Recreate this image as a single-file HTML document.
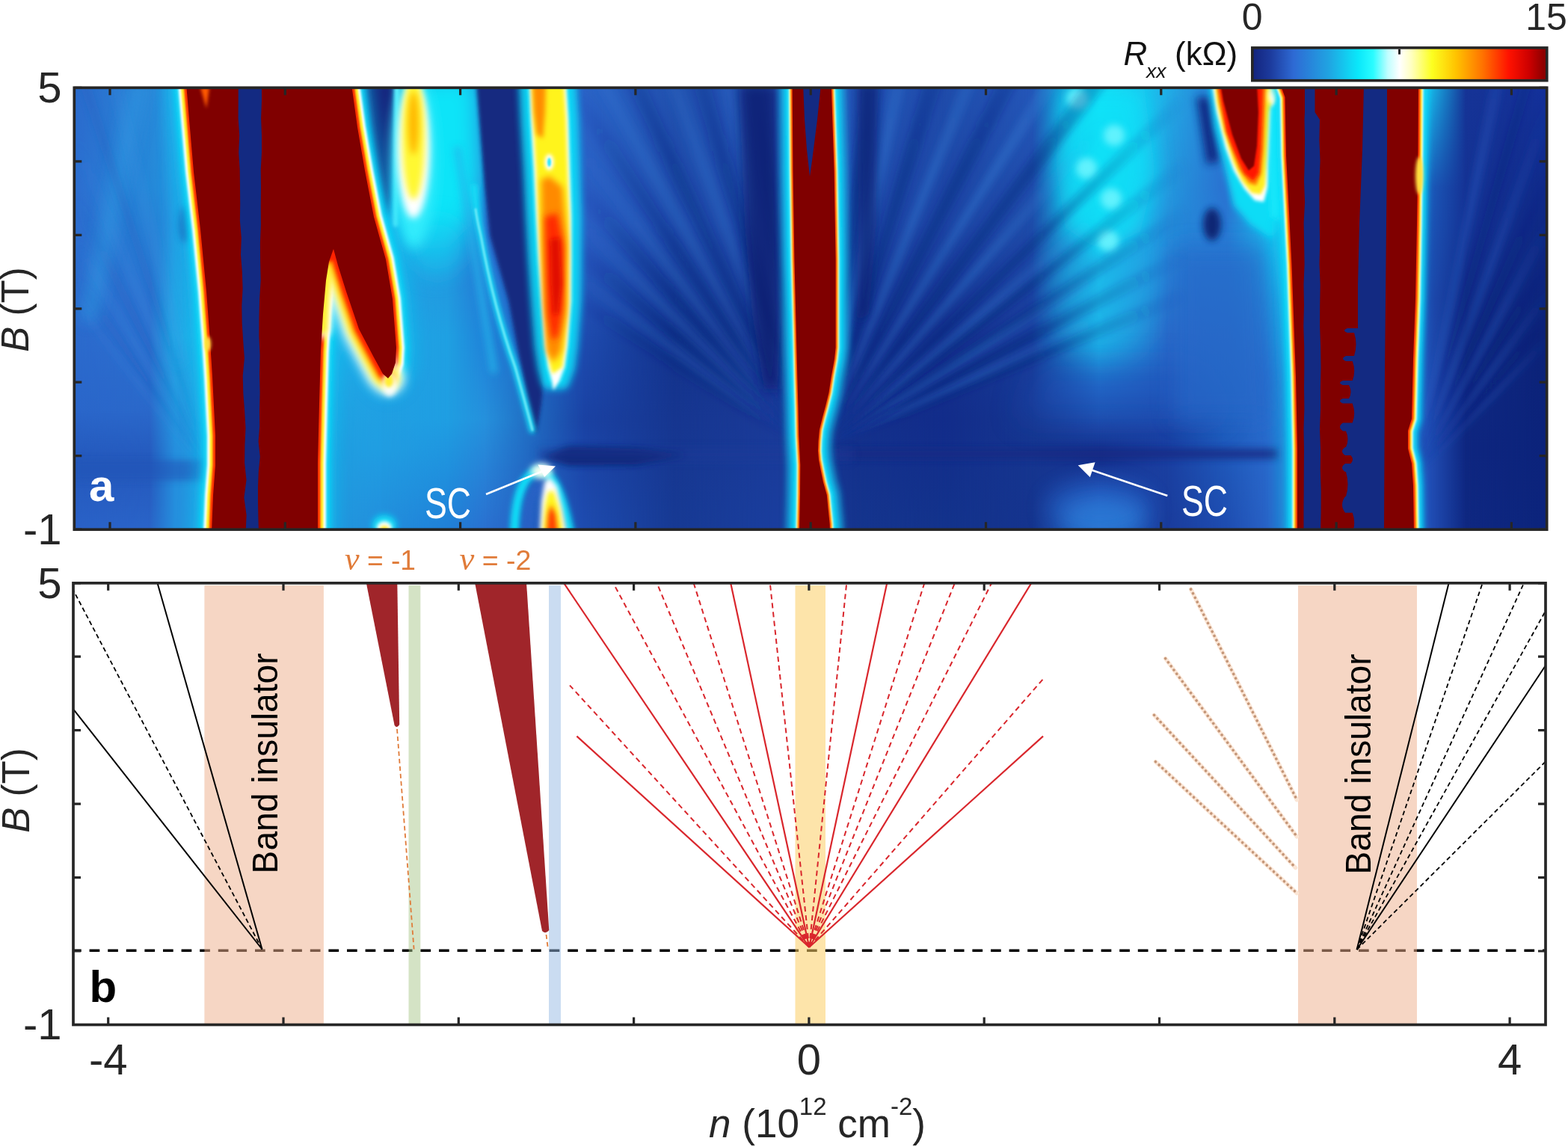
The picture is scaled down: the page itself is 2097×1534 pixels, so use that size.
<!DOCTYPE html>
<html><head><meta charset="utf-8"><title>Figure</title>
<style>html,body{margin:0;padding:0;background:#fff;width:2097px;height:1534px;overflow:hidden}</style>
</head><body>
<svg xmlns="http://www.w3.org/2000/svg" width="2097" height="1534" viewBox="0 0 2097 1534" style="position:absolute;left:0;top:0">
<defs>
<filter id="b1" x="-50%" y="-50%" width="200%" height="200%"><feGaussianBlur stdDeviation="1"/></filter>
<filter id="b1_5" x="-50%" y="-50%" width="200%" height="200%"><feGaussianBlur stdDeviation="1.5"/></filter>
<filter id="b2" x="-50%" y="-50%" width="200%" height="200%"><feGaussianBlur stdDeviation="2"/></filter>
<filter id="b3" x="-50%" y="-50%" width="200%" height="200%"><feGaussianBlur stdDeviation="3"/></filter>
<filter id="b4" x="-50%" y="-50%" width="200%" height="200%"><feGaussianBlur stdDeviation="4"/></filter>
<filter id="b5" x="-50%" y="-50%" width="200%" height="200%"><feGaussianBlur stdDeviation="5"/></filter>
<filter id="b6" x="-50%" y="-50%" width="200%" height="200%"><feGaussianBlur stdDeviation="6"/></filter>
<filter id="b8" x="-50%" y="-50%" width="200%" height="200%"><feGaussianBlur stdDeviation="8"/></filter>
<filter id="b10" x="-50%" y="-50%" width="200%" height="200%"><feGaussianBlur stdDeviation="10"/></filter>
<filter id="b12" x="-50%" y="-50%" width="200%" height="200%"><feGaussianBlur stdDeviation="12"/></filter>
<filter id="b15" x="-50%" y="-50%" width="200%" height="200%"><feGaussianBlur stdDeviation="15"/></filter>
<filter id="b18" x="-50%" y="-50%" width="200%" height="200%"><feGaussianBlur stdDeviation="18"/></filter>
<filter id="b22" x="-50%" y="-50%" width="200%" height="200%"><feGaussianBlur stdDeviation="22"/></filter>
<filter id="b28" x="-50%" y="-50%" width="200%" height="200%"><feGaussianBlur stdDeviation="28"/></filter>
<filter id="b35" x="-50%" y="-50%" width="200%" height="200%"><feGaussianBlur stdDeviation="35"/></filter>
<clipPath id="clipA"><rect x="99.3" y="117.3" width="1969.3999999999999" height="590.9000000000001"/></clipPath>
<clipPath id="clipB"><rect x="98.0" y="779.8" width="1969.0" height="590.7"/></clipPath>
<linearGradient id="cbar" x1="0" x2="1" y1="0" y2="0">
<stop offset="0" stop-color="#13237c"/>
<stop offset="0.06" stop-color="#1c3a9c"/>
<stop offset="0.14" stop-color="#2e6ad4"/>
<stop offset="0.26" stop-color="#20a4e2"/>
<stop offset="0.36" stop-color="#0ae8fa"/>
<stop offset="0.41" stop-color="#2afcff"/>
<stop offset="0.46" stop-color="#c0feff"/>
<stop offset="0.50" stop-color="#ffffff"/>
<stop offset="0.54" stop-color="#ffffc0"/>
<stop offset="0.61" stop-color="#fcff20"/>
<stop offset="0.69" stop-color="#ffc400"/>
<stop offset="0.78" stop-color="#ff7400"/>
<stop offset="0.87" stop-color="#ff1200"/>
<stop offset="0.94" stop-color="#cc0000"/>
<stop offset="1" stop-color="#800000"/>
</linearGradient>
</defs>
<rect width="2097" height="1534" fill="#ffffff"/>
<g clip-path="url(#clipA)">
<defs><filter id="f0" filterUnits="userSpaceOnUse" x="76" y="73" width="153" height="391"><feGaussianBlur stdDeviation="10"/></filter><filter id="f1" filterUnits="userSpaceOnUse" x="197" y="82" width="75" height="432"><feGaussianBlur stdDeviation="8"/></filter><filter id="f2" filterUnits="userSpaceOnUse" x="86" y="602" width="206" height="54"><feGaussianBlur stdDeviation="4"/></filter><filter id="f3" filterUnits="userSpaceOnUse" x="210" y="262" width="76" height="76"><feGaussianBlur stdDeviation="4"/></filter><filter id="f4" filterUnits="userSpaceOnUse" x="478" y="48" width="219" height="339"><feGaussianBlur stdDeviation="16"/></filter><filter id="f5" filterUnits="userSpaceOnUse" x="500" y="245" width="170" height="170"><feGaussianBlur stdDeviation="14"/></filter><filter id="f6" filterUnits="userSpaceOnUse" x="475" y="98" width="66" height="208"><feGaussianBlur stdDeviation="4"/></filter><filter id="f7" filterUnits="userSpaceOnUse" x="514" y="104" width="38" height="213"><feGaussianBlur stdDeviation="2"/></filter><filter id="f8" filterUnits="userSpaceOnUse" x="409" y="71" width="287" height="287"><feGaussianBlur stdDeviation="8"/></filter><filter id="f9" filterUnits="userSpaceOnUse" x="445" y="92" width="216" height="216"><feGaussianBlur stdDeviation="5"/></filter><filter id="f10" filterUnits="userSpaceOnUse" x="458" y="90" width="190" height="190"><feGaussianBlur stdDeviation="4"/></filter><filter id="f11" filterUnits="userSpaceOnUse" x="498" y="110" width="110" height="110"><feGaussianBlur stdDeviation="4"/></filter><filter id="f12" filterUnits="userSpaceOnUse" x="708" y="581" width="229" height="58"><feGaussianBlur stdDeviation="5"/></filter><filter id="f13" filterUnits="userSpaceOnUse" x="1104" y="584" width="622" height="46"><feGaussianBlur stdDeviation="5"/></filter><filter id="f14" filterUnits="userSpaceOnUse" x="701" y="581" width="458" height="54"><feGaussianBlur stdDeviation="6"/></filter><filter id="f15" filterUnits="userSpaceOnUse" x="1343" y="52" width="272" height="493"><feGaussianBlur stdDeviation="20"/></filter><filter id="f16" filterUnits="userSpaceOnUse" x="1295" y="425" width="410" height="200"><feGaussianBlur stdDeviation="20"/></filter><filter id="f17" filterUnits="userSpaceOnUse" x="1521" y="281" width="228" height="328"><feGaussianBlur stdDeviation="15"/></filter><filter id="f18" filterUnits="userSpaceOnUse" x="1366" y="71" width="225" height="310"><feGaussianBlur stdDeviation="14"/></filter><filter id="f19" filterUnits="userSpaceOnUse" x="1411" y="102" width="60" height="60"><feGaussianBlur stdDeviation="5"/></filter><filter id="f20" filterUnits="userSpaceOnUse" x="1460" y="151" width="60" height="60"><feGaussianBlur stdDeviation="5"/></filter><filter id="f21" filterUnits="userSpaceOnUse" x="1423" y="195" width="60" height="60"><feGaussianBlur stdDeviation="5"/></filter><filter id="f22" filterUnits="userSpaceOnUse" x="1456" y="236" width="60" height="60"><feGaussianBlur stdDeviation="5"/></filter><filter id="f23" filterUnits="userSpaceOnUse" x="1452" y="292" width="60" height="60"><feGaussianBlur stdDeviation="5"/></filter><filter id="f24" filterUnits="userSpaceOnUse" x="1387" y="604" width="177" height="177"><feGaussianBlur stdDeviation="12"/></filter><filter id="f25" filterUnits="userSpaceOnUse" x="1355" y="565" width="230" height="230"><feGaussianBlur stdDeviation="14"/></filter><filter id="f26" filterUnits="userSpaceOnUse" x="1079" y="81" width="118" height="536"><feGaussianBlur stdDeviation="5"/></filter><filter id="f27" filterUnits="userSpaceOnUse" x="1079" y="79" width="200" height="538"><feGaussianBlur stdDeviation="5"/></filter><filter id="f28" filterUnits="userSpaceOnUse" x="1079" y="78" width="301" height="540"><feGaussianBlur stdDeviation="5"/></filter><filter id="f29" filterUnits="userSpaceOnUse" x="1080" y="76" width="422" height="542"><feGaussianBlur stdDeviation="5"/></filter><filter id="f30" filterUnits="userSpaceOnUse" x="1083" y="104" width="528" height="511"><feGaussianBlur stdDeviation="4"/></filter><filter id="f31" filterUnits="userSpaceOnUse" x="1083" y="194" width="527" height="421"><feGaussianBlur stdDeviation="4"/></filter><filter id="f32" filterUnits="userSpaceOnUse" x="1083" y="258" width="526" height="357"><feGaussianBlur stdDeviation="4"/></filter><filter id="f33" filterUnits="userSpaceOnUse" x="1083" y="316" width="525" height="299"><feGaussianBlur stdDeviation="4"/></filter><filter id="f34" filterUnits="userSpaceOnUse" x="1084" y="368" width="524" height="247"><feGaussianBlur stdDeviation="4"/></filter><filter id="f35" filterUnits="userSpaceOnUse" x="1083" y="84" width="144" height="530"><feGaussianBlur stdDeviation="4"/></filter><filter id="f36" filterUnits="userSpaceOnUse" x="1083" y="83" width="239" height="531"><feGaussianBlur stdDeviation="4"/></filter><filter id="f37" filterUnits="userSpaceOnUse" x="1083" y="81" width="349" height="533"><feGaussianBlur stdDeviation="4"/></filter><filter id="f38" filterUnits="userSpaceOnUse" x="1083" y="141" width="417" height="474"><feGaussianBlur stdDeviation="4"/></filter><filter id="f39" filterUnits="userSpaceOnUse" x="1083" y="259" width="416" height="356"><feGaussianBlur stdDeviation="4"/></filter><filter id="f40" filterUnits="userSpaceOnUse" x="1083" y="340" width="415" height="275"><feGaussianBlur stdDeviation="4"/></filter><filter id="f41" filterUnits="userSpaceOnUse" x="1084" y="400" width="414" height="215"><feGaussianBlur stdDeviation="4"/></filter><filter id="f42" filterUnits="userSpaceOnUse" x="977" y="78" width="123" height="542"><feGaussianBlur stdDeviation="6"/></filter><filter id="f43" filterUnits="userSpaceOnUse" x="904" y="77" width="196" height="544"><feGaussianBlur stdDeviation="6"/></filter><filter id="f44" filterUnits="userSpaceOnUse" x="815" y="75" width="285" height="546"><feGaussianBlur stdDeviation="6"/></filter><filter id="f45" filterUnits="userSpaceOnUse" x="731" y="84" width="369" height="537"><feGaussianBlur stdDeviation="6"/></filter><filter id="f46" filterUnits="userSpaceOnUse" x="731" y="207" width="368" height="415"><feGaussianBlur stdDeviation="6"/></filter><filter id="f47" filterUnits="userSpaceOnUse" x="733" y="296" width="366" height="326"><feGaussianBlur stdDeviation="6"/></filter><filter id="f48" filterUnits="userSpaceOnUse" x="735" y="366" width="364" height="256"><feGaussianBlur stdDeviation="6"/></filter><filter id="f49" filterUnits="userSpaceOnUse" x="943" y="78" width="157" height="543"><feGaussianBlur stdDeviation="6"/></filter><filter id="f50" filterUnits="userSpaceOnUse" x="867" y="77" width="232" height="544"><feGaussianBlur stdDeviation="6"/></filter><filter id="f51" filterUnits="userSpaceOnUse" x="773" y="75" width="327" height="545"><feGaussianBlur stdDeviation="6"/></filter><filter id="f52" filterUnits="userSpaceOnUse" x="733" y="152" width="367" height="469"><feGaussianBlur stdDeviation="6"/></filter><filter id="f53" filterUnits="userSpaceOnUse" x="733" y="255" width="366" height="366"><feGaussianBlur stdDeviation="6"/></filter><filter id="f54" filterUnits="userSpaceOnUse" x="735" y="334" width="364" height="287"><feGaussianBlur stdDeviation="6"/></filter><filter id="f55" filterUnits="userSpaceOnUse" x="126" y="81" width="178" height="576"><feGaussianBlur stdDeviation="5"/></filter><filter id="f56" filterUnits="userSpaceOnUse" x="75" y="160" width="229" height="498"><feGaussianBlur stdDeviation="5"/></filter><filter id="f57" filterUnits="userSpaceOnUse" x="76" y="298" width="227" height="360"><feGaussianBlur stdDeviation="5"/></filter><filter id="f58" filterUnits="userSpaceOnUse" x="78" y="382" width="225" height="276"><feGaussianBlur stdDeviation="5"/></filter><filter id="f59" filterUnits="userSpaceOnUse" x="86" y="81" width="217" height="576"><feGaussianBlur stdDeviation="5"/></filter><filter id="f60" filterUnits="userSpaceOnUse" x="76" y="239" width="227" height="419"><feGaussianBlur stdDeviation="5"/></filter><filter id="f61" filterUnits="userSpaceOnUse" x="78" y="344" width="225" height="313"><feGaussianBlur stdDeviation="5"/></filter><filter id="f62" filterUnits="userSpaceOnUse" x="1875" y="85" width="151" height="570"><feGaussianBlur stdDeviation="4"/></filter><filter id="f63" filterUnits="userSpaceOnUse" x="1875" y="115" width="221" height="539"><feGaussianBlur stdDeviation="4"/></filter><filter id="f64" filterUnits="userSpaceOnUse" x="1875" y="275" width="220" height="379"><feGaussianBlur stdDeviation="4"/></filter><filter id="f65" filterUnits="userSpaceOnUse" x="1876" y="368" width="218" height="286"><feGaussianBlur stdDeviation="4"/></filter><filter id="f66" filterUnits="userSpaceOnUse" x="1876" y="431" width="217" height="223"><feGaussianBlur stdDeviation="4"/></filter><filter id="f67" filterUnits="userSpaceOnUse" x="1875" y="84" width="190" height="570"><feGaussianBlur stdDeviation="4"/></filter><filter id="f68" filterUnits="userSpaceOnUse" x="1875" y="208" width="220" height="446"><feGaussianBlur stdDeviation="4"/></filter><filter id="f69" filterUnits="userSpaceOnUse" x="1876" y="327" width="218" height="327"><feGaussianBlur stdDeviation="4"/></filter><filter id="f70" filterUnits="userSpaceOnUse" x="1876" y="403" width="217" height="251"><feGaussianBlur stdDeviation="4"/></filter><filter id="f71" filterUnits="userSpaceOnUse" x="590" y="178" width="92" height="339"><feGaussianBlur stdDeviation="5"/></filter><filter id="f72" filterUnits="userSpaceOnUse" x="628" y="103" width="109" height="484"><feGaussianBlur stdDeviation="2.5"/></filter><filter id="f73" filterUnits="userSpaceOnUse" x="-10" y="-10" width="2116" height="1553"><feGaussianBlur stdDeviation="3"/></filter><filter id="f74" filterUnits="userSpaceOnUse" x="-4" y="-4" width="2105" height="1542"><feGaussianBlur stdDeviation="1.2"/></filter><filter id="f75" filterUnits="userSpaceOnUse" x="674" y="81" width="124" height="460"><feGaussianBlur stdDeviation="5"/></filter><filter id="f76" filterUnits="userSpaceOnUse" x="698" y="105" width="77" height="413"><feGaussianBlur stdDeviation="2"/></filter><filter id="f77" filterUnits="userSpaceOnUse" x="701" y="105" width="71" height="425"><feGaussianBlur stdDeviation="2"/></filter><filter id="f78" filterUnits="userSpaceOnUse" x="702" y="103" width="68" height="406"><feGaussianBlur stdDeviation="2.5"/></filter><filter id="f79" filterUnits="userSpaceOnUse" x="710" y="222" width="62" height="277"><feGaussianBlur stdDeviation="4"/></filter><filter id="f80" filterUnits="userSpaceOnUse" x="715" y="271" width="53" height="198"><feGaussianBlur stdDeviation="4"/></filter><filter id="f81" filterUnits="userSpaceOnUse" x="725" y="307" width="36" height="123"><feGaussianBlur stdDeviation="3"/></filter><filter id="f82" filterUnits="userSpaceOnUse" x="701" y="101" width="39" height="94"><feGaussianBlur stdDeviation="3"/></filter><filter id="f83" filterUnits="userSpaceOnUse" x="716" y="198" width="38" height="38"><feGaussianBlur stdDeviation="2.5"/></filter><filter id="f84" filterUnits="userSpaceOnUse" x="725" y="207" width="20" height="20"><feGaussianBlur stdDeviation="1.2"/></filter><filter id="f85" filterUnits="userSpaceOnUse" x="-11" y="-11" width="2119" height="1556"><feGaussianBlur stdDeviation="3.5"/></filter><filter id="f86" filterUnits="userSpaceOnUse" x="-13" y="-13" width="2123" height="1560"><feGaussianBlur stdDeviation="4"/></filter><filter id="f87" filterUnits="userSpaceOnUse" x="711" y="627" width="57" height="95"><feGaussianBlur stdDeviation="3"/></filter><filter id="f88" filterUnits="userSpaceOnUse" x="715" y="645" width="48" height="77"><feGaussianBlur stdDeviation="3"/></filter><filter id="f89" filterUnits="userSpaceOnUse" x="720" y="664" width="36" height="58"><feGaussianBlur stdDeviation="3"/></filter><filter id="f90" filterUnits="userSpaceOnUse" x="697" y="603" width="54" height="54"><feGaussianBlur stdDeviation="4"/></filter><filter id="f91" filterUnits="userSpaceOnUse" x="485" y="674" width="58" height="58"><feGaussianBlur stdDeviation="4"/></filter><filter id="f92" filterUnits="userSpaceOnUse" x="496" y="688" width="36" height="36"><feGaussianBlur stdDeviation="2.5"/></filter><filter id="f93" filterUnits="userSpaceOnUse" x="502" y="696" width="25" height="25"><feGaussianBlur stdDeviation="2"/></filter><filter id="f94" filterUnits="userSpaceOnUse" x="187" y="50" width="405" height="724"><feGaussianBlur stdDeviation="10"/></filter><filter id="f95" filterUnits="userSpaceOnUse" x="218" y="81" width="343" height="662"><feGaussianBlur stdDeviation="4"/></filter><filter id="f96" filterUnits="userSpaceOnUse" x="226" y="89" width="327" height="646"><feGaussianBlur stdDeviation="1.5"/></filter><filter id="f97" filterUnits="userSpaceOnUse" x="228" y="91" width="323" height="642"><feGaussianBlur stdDeviation="1"/></filter><filter id="f98" filterUnits="userSpaceOnUse" x="228" y="91" width="322" height="641"><feGaussianBlur stdDeviation="0.8"/></filter><filter id="f99" filterUnits="userSpaceOnUse" x="378" y="278" width="205" height="305"><feGaussianBlur stdDeviation="7"/></filter><filter id="f100" filterUnits="userSpaceOnUse" x="384" y="284" width="192" height="292"><feGaussianBlur stdDeviation="5"/></filter><filter id="f101" filterUnits="userSpaceOnUse" x="384" y="284" width="192" height="292"><feGaussianBlur stdDeviation="5"/></filter><filter id="f102" filterUnits="userSpaceOnUse" x="390" y="290" width="179" height="279"><feGaussianBlur stdDeviation="3"/></filter><filter id="f103" filterUnits="userSpaceOnUse" x="390" y="290" width="179" height="279"><feGaussianBlur stdDeviation="3"/></filter><filter id="f104" filterUnits="userSpaceOnUse" x="394" y="294" width="173" height="273"><feGaussianBlur stdDeviation="2"/></filter><filter id="f105" filterUnits="userSpaceOnUse" x="495" y="488" width="51" height="51"><feGaussianBlur stdDeviation="3"/></filter><filter id="f106" filterUnits="userSpaceOnUse" x="505" y="494" width="31" height="31"><feGaussianBlur stdDeviation="2"/></filter><filter id="f107" filterUnits="userSpaceOnUse" x="261" y="110" width="27" height="43"><feGaussianBlur stdDeviation="2"/></filter><filter id="f108" filterUnits="userSpaceOnUse" x="262" y="444" width="33" height="33"><feGaussianBlur stdDeviation="2"/></filter><filter id="f109" filterUnits="userSpaceOnUse" x="961" y="85" width="109" height="461"><feGaussianBlur stdDeviation="8"/></filter><filter id="f110" filterUnits="userSpaceOnUse" x="1126" y="92" width="68" height="358"><feGaussianBlur stdDeviation="6"/></filter><filter id="f111" filterUnits="userSpaceOnUse" x="1019" y="71" width="140" height="682"><feGaussianBlur stdDeviation="5"/></filter><filter id="f112" filterUnits="userSpaceOnUse" x="1041" y="93" width="96" height="638"><feGaussianBlur stdDeviation="2.5"/></filter><filter id="f113" filterUnits="userSpaceOnUse" x="1044" y="96" width="90" height="632"><feGaussianBlur stdDeviation="1.5"/></filter><filter id="f114" filterUnits="userSpaceOnUse" x="1045" y="98" width="86" height="628"><feGaussianBlur stdDeviation="1"/></filter><filter id="f115" filterUnits="userSpaceOnUse" x="1046" y="98" width="85" height="627"><feGaussianBlur stdDeviation="0.8"/></filter><filter id="f116" filterUnits="userSpaceOnUse" x="1650" y="50" width="147" height="724"><feGaussianBlur stdDeviation="10"/></filter><filter id="f117" filterUnits="userSpaceOnUse" x="1834" y="63" width="112" height="698"><feGaussianBlur stdDeviation="6"/></filter><filter id="f118" filterUnits="userSpaceOnUse" x="1580" y="110" width="72" height="130"><feGaussianBlur stdDeviation="6"/></filter><filter id="f119" filterUnits="userSpaceOnUse" x="1583" y="262" width="76" height="76"><feGaussianBlur stdDeviation="5"/></filter><filter id="f120" filterUnits="userSpaceOnUse" x="1600" y="95" width="133" height="240"><feGaussianBlur stdDeviation="5"/></filter><filter id="f121" filterUnits="userSpaceOnUse" x="1614" y="105" width="100" height="173"><feGaussianBlur stdDeviation="2"/></filter><filter id="f122" filterUnits="userSpaceOnUse" x="1618" y="105" width="102" height="163"><feGaussianBlur stdDeviation="2"/></filter><filter id="f123" filterUnits="userSpaceOnUse" x="1620" y="105" width="82" height="151"><feGaussianBlur stdDeviation="2"/></filter><filter id="f124" filterUnits="userSpaceOnUse" x="1622" y="105" width="75" height="145"><feGaussianBlur stdDeviation="2"/></filter><filter id="f125" filterUnits="userSpaceOnUse" x="1627" y="107" width="61" height="126"><feGaussianBlur stdDeviation="1.2"/></filter><filter id="f126" filterUnits="userSpaceOnUse" x="1685" y="129" width="43" height="181"><feGaussianBlur stdDeviation="3"/></filter><filter id="f127" filterUnits="userSpaceOnUse" x="1680" y="106" width="43" height="43"><feGaussianBlur stdDeviation="3"/></filter><filter id="f128" filterUnits="userSpaceOnUse" x="1681" y="271" width="83" height="460"><feGaussianBlur stdDeviation="6"/></filter><filter id="f129" filterUnits="userSpaceOnUse" x="1687" y="87" width="235" height="650"><feGaussianBlur stdDeviation="3.5"/></filter><filter id="f130" filterUnits="userSpaceOnUse" x="1693" y="93" width="223" height="638"><feGaussianBlur stdDeviation="1.5"/></filter><filter id="f131" filterUnits="userSpaceOnUse" x="1695" y="95" width="219" height="634"><feGaussianBlur stdDeviation="1"/></filter><filter id="f132" filterUnits="userSpaceOnUse" x="1695" y="95" width="218" height="633"><feGaussianBlur stdDeviation="0.8"/></filter><filter id="f133" filterUnits="userSpaceOnUse" x="1867" y="204" width="63" height="63"><feGaussianBlur stdDeviation="2"/></filter></defs>
<linearGradient id="ramp" x1="0" x2="1" y1="0" y2="0"><stop offset="0" stop-color="#fff" stop-opacity="0"/><stop offset="1" stop-color="#fff" stop-opacity="1"/></linearGradient>
<mask id="mramp" maskContentUnits="objectBoundingBox"><rect x="0" y="0" width="1" height="1" fill="url(#ramp)"/></mask>
<linearGradient id="col0" gradientUnits="userSpaceOnUse" x1="0" y1="117" x2="0" y2="709"><stop offset="0.000" stop-color="#2a6acc"/><stop offset="0.225" stop-color="#2d6ed0"/><stop offset="0.478" stop-color="#2c6ccf"/><stop offset="0.731" stop-color="#2a66ca"/><stop offset="0.850" stop-color="#2458bc"/><stop offset="0.998" stop-color="#2a62c8"/></linearGradient>
<rect x="94" y="112" width="106" height="602" fill="url(#col0)"/>
<linearGradient id="col1" gradientUnits="userSpaceOnUse" x1="0" y1="117" x2="0" y2="709"><stop offset="0.000" stop-color="#2a86d8"/><stop offset="0.225" stop-color="#2488d8"/><stop offset="0.478" stop-color="#2c72d0"/><stop offset="0.731" stop-color="#2a68ca"/><stop offset="0.850" stop-color="#2458bc"/><stop offset="0.998" stop-color="#2a64c8"/></linearGradient>
<rect x="99" y="112" width="101" height="602" fill="url(#col1)" mask="url(#mramp)"/>
<rect x="200" y="112" width="35" height="602" fill="url(#col1)"/>
<linearGradient id="col2" gradientUnits="userSpaceOnUse" x1="0" y1="117" x2="0" y2="709"><stop offset="0.000" stop-color="#25a0e4"/><stop offset="0.309" stop-color="#2590de"/><stop offset="0.562" stop-color="#22b0e8"/><stop offset="0.816" stop-color="#2590de"/><stop offset="0.998" stop-color="#2590de"/></linearGradient>
<rect x="200" y="112" width="35" height="602" fill="url(#col2)" mask="url(#mramp)"/>
<rect x="235" y="112" width="65" height="602" fill="url(#col2)"/>
<linearGradient id="col3" gradientUnits="userSpaceOnUse" x1="0" y1="117" x2="0" y2="709"><stop offset="0.000" stop-color="#22a8e6"/><stop offset="0.998" stop-color="#22a8e6"/></linearGradient>
<rect x="235" y="112" width="65" height="602" fill="url(#col3)" mask="url(#mramp)"/>
<rect x="300" y="112" width="140" height="602" fill="url(#col3)"/>
<linearGradient id="col4" gradientUnits="userSpaceOnUse" x1="0" y1="117" x2="0" y2="709"><stop offset="0.000" stop-color="#20b8ec"/><stop offset="0.360" stop-color="#22c0ee"/><stop offset="0.562" stop-color="#20aee8"/><stop offset="0.816" stop-color="#209ee0"/><stop offset="0.998" stop-color="#2298de"/></linearGradient>
<rect x="300" y="112" width="140" height="602" fill="url(#col4)" mask="url(#mramp)"/>
<rect x="440" y="112" width="70" height="602" fill="url(#col4)"/>
<linearGradient id="col5" gradientUnits="userSpaceOnUse" x1="0" y1="117" x2="0" y2="709"><stop offset="0.000" stop-color="#1a3a9a"/><stop offset="0.140" stop-color="#1e4cb0"/><stop offset="0.309" stop-color="#20a8e6"/><stop offset="0.562" stop-color="#1fa4e4"/><stop offset="0.816" stop-color="#209ee2"/><stop offset="0.998" stop-color="#228edc"/></linearGradient>
<rect x="440" y="112" width="70" height="602" fill="url(#col5)" mask="url(#mramp)"/>
<rect x="510" y="112" width="90" height="602" fill="url(#col5)"/>
<linearGradient id="col6" gradientUnits="userSpaceOnUse" x1="0" y1="117" x2="0" y2="709"><stop offset="0.000" stop-color="#2590dc"/><stop offset="0.309" stop-color="#2590dc"/><stop offset="0.562" stop-color="#1fa0e2"/><stop offset="0.748" stop-color="#1f9ee2"/><stop offset="0.998" stop-color="#2080d8"/></linearGradient>
<rect x="510" y="112" width="90" height="602" fill="url(#col6)" mask="url(#mramp)"/>
<rect x="600" y="112" width="50" height="602" fill="url(#col6)"/>
<linearGradient id="col7" gradientUnits="userSpaceOnUse" x1="0" y1="117" x2="0" y2="709"><stop offset="0.000" stop-color="#2070d0"/><stop offset="0.309" stop-color="#2a6ed0"/><stop offset="0.562" stop-color="#2080d8"/><stop offset="0.748" stop-color="#2590dc"/><stop offset="0.998" stop-color="#2a70d0"/></linearGradient>
<rect x="600" y="112" width="50" height="602" fill="url(#col7)" mask="url(#mramp)"/>
<rect x="650" y="112" width="130" height="602" fill="url(#col7)"/>
<linearGradient id="col8" gradientUnits="userSpaceOnUse" x1="0" y1="117" x2="0" y2="709"><stop offset="0.000" stop-color="#2a64c8"/><stop offset="0.309" stop-color="#2a5ec4"/><stop offset="0.562" stop-color="#1e4cb0"/><stop offset="0.748" stop-color="#1a42a4"/><stop offset="0.998" stop-color="#1e4cb0"/></linearGradient>
<rect x="650" y="112" width="130" height="602" fill="url(#col8)" mask="url(#mramp)"/>
<rect x="780" y="112" width="120" height="602" fill="url(#col8)"/>
<linearGradient id="col9" gradientUnits="userSpaceOnUse" x1="0" y1="117" x2="0" y2="709"><stop offset="0.000" stop-color="#2150ae"/><stop offset="0.309" stop-color="#1e4aaa"/><stop offset="0.562" stop-color="#12328c"/><stop offset="0.748" stop-color="#163690"/><stop offset="0.998" stop-color="#173a94"/></linearGradient>
<rect x="780" y="112" width="120" height="602" fill="url(#col9)" mask="url(#mramp)"/>
<rect x="900" y="112" width="140" height="602" fill="url(#col9)"/>
<linearGradient id="col10" gradientUnits="userSpaceOnUse" x1="0" y1="117" x2="0" y2="709"><stop offset="0.000" stop-color="#2454b8"/><stop offset="0.309" stop-color="#1e48a8"/><stop offset="0.562" stop-color="#163690"/><stop offset="0.748" stop-color="#1a3a98"/><stop offset="0.998" stop-color="#1a3e9e"/></linearGradient>
<rect x="900" y="112" width="140" height="602" fill="url(#col10)" mask="url(#mramp)"/>
<rect x="1040" y="112" width="100" height="602" fill="url(#col10)"/>
<linearGradient id="col11" gradientUnits="userSpaceOnUse" x1="0" y1="117" x2="0" y2="709"><stop offset="0.000" stop-color="#2456b8"/><stop offset="0.309" stop-color="#1e48a8"/><stop offset="0.562" stop-color="#143290"/><stop offset="0.748" stop-color="#13308c"/><stop offset="0.998" stop-color="#15358e"/></linearGradient>
<rect x="1040" y="112" width="100" height="602" fill="url(#col11)" mask="url(#mramp)"/>
<rect x="1140" y="112" width="120" height="602" fill="url(#col11)"/>
<linearGradient id="col12" gradientUnits="userSpaceOnUse" x1="0" y1="117" x2="0" y2="709"><stop offset="0.000" stop-color="#1f4cab"/><stop offset="0.309" stop-color="#1c44a4"/><stop offset="0.562" stop-color="#13308c"/><stop offset="0.748" stop-color="#122c8a"/><stop offset="0.998" stop-color="#13338c"/></linearGradient>
<rect x="1140" y="112" width="120" height="602" fill="url(#col12)" mask="url(#mramp)"/>
<rect x="1260" y="112" width="120" height="602" fill="url(#col12)"/>
<linearGradient id="col13" gradientUnits="userSpaceOnUse" x1="0" y1="117" x2="0" y2="709"><stop offset="0.000" stop-color="#2456b8"/><stop offset="0.309" stop-color="#1e4aa8"/><stop offset="0.562" stop-color="#183c9c"/><stop offset="0.748" stop-color="#163690"/><stop offset="0.998" stop-color="#15348e"/></linearGradient>
<rect x="1260" y="112" width="120" height="602" fill="url(#col13)" mask="url(#mramp)"/>
<rect x="1380" y="112" width="90" height="602" fill="url(#col13)"/>
<linearGradient id="col14" gradientUnits="userSpaceOnUse" x1="0" y1="117" x2="0" y2="709"><stop offset="0.000" stop-color="#0ee6f8"/><stop offset="0.225" stop-color="#14d8f4"/><stop offset="0.394" stop-color="#1cc0ec"/><stop offset="0.562" stop-color="#1cb0e6"/><stop offset="0.681" stop-color="#2478d4"/><stop offset="0.765" stop-color="#1c46a6"/><stop offset="0.833" stop-color="#142c88"/><stop offset="0.917" stop-color="#1e4cb0"/><stop offset="0.998" stop-color="#2a6ed0"/></linearGradient>
<rect x="1380" y="112" width="90" height="602" fill="url(#col14)" mask="url(#mramp)"/>
<rect x="1470" y="112" width="90" height="602" fill="url(#col14)"/>
<linearGradient id="col15" gradientUnits="userSpaceOnUse" x1="0" y1="117" x2="0" y2="709"><stop offset="0.000" stop-color="#22b0e8"/><stop offset="0.225" stop-color="#2498de"/><stop offset="0.394" stop-color="#2680d6"/><stop offset="0.562" stop-color="#2a68c8"/><stop offset="0.681" stop-color="#2460c4"/><stop offset="0.782" stop-color="#1a40a2"/><stop offset="0.998" stop-color="#1a3c9c"/></linearGradient>
<rect x="1470" y="112" width="90" height="602" fill="url(#col15)" mask="url(#mramp)"/>
<rect x="1560" y="112" width="80" height="602" fill="url(#col15)"/>
<linearGradient id="col16" gradientUnits="userSpaceOnUse" x1="0" y1="117" x2="0" y2="709"><stop offset="0.000" stop-color="#2a70d0"/><stop offset="0.225" stop-color="#2a70d0"/><stop offset="0.394" stop-color="#2680d6"/><stop offset="0.562" stop-color="#2a6cca"/><stop offset="0.748" stop-color="#2060c0"/><stop offset="0.998" stop-color="#1e4cb0"/></linearGradient>
<rect x="1560" y="112" width="80" height="602" fill="url(#col16)" mask="url(#mramp)"/>
<rect x="1640" y="112" width="60" height="602" fill="url(#col16)"/>
<linearGradient id="col17" gradientUnits="userSpaceOnUse" x1="0" y1="117" x2="0" y2="709"><stop offset="0.000" stop-color="#10d0f0"/><stop offset="0.309" stop-color="#18c0ee"/><stop offset="0.478" stop-color="#2490dc"/><stop offset="0.647" stop-color="#2a70d0"/><stop offset="0.998" stop-color="#2a64c8"/></linearGradient>
<rect x="1640" y="112" width="60" height="602" fill="url(#col17)" mask="url(#mramp)"/>
<rect x="1700" y="112" width="100" height="602" fill="url(#col17)"/>
<linearGradient id="col18" gradientUnits="userSpaceOnUse" x1="0" y1="117" x2="0" y2="709"><stop offset="0.000" stop-color="#2090dc"/><stop offset="0.998" stop-color="#2a64c8"/></linearGradient>
<rect x="1700" y="112" width="100" height="602" fill="url(#col18)" mask="url(#mramp)"/>
<rect x="1800" y="112" width="110" height="602" fill="url(#col18)"/>
<linearGradient id="col19" gradientUnits="userSpaceOnUse" x1="0" y1="117" x2="0" y2="709"><stop offset="0.000" stop-color="#18c0ee"/><stop offset="0.225" stop-color="#1c5cbc"/><stop offset="0.478" stop-color="#1e4cb0"/><stop offset="0.731" stop-color="#2250b8"/><stop offset="0.998" stop-color="#2250b8"/></linearGradient>
<rect x="1800" y="112" width="110" height="602" fill="url(#col19)" mask="url(#mramp)"/>
<rect x="1910" y="112" width="50" height="602" fill="url(#col19)"/>
<linearGradient id="col20" gradientUnits="userSpaceOnUse" x1="0" y1="117" x2="0" y2="709"><stop offset="0.000" stop-color="#163496"/><stop offset="0.309" stop-color="#143294"/><stop offset="0.562" stop-color="#102a84"/><stop offset="0.816" stop-color="#0e2680"/><stop offset="0.998" stop-color="#0f2882"/></linearGradient>
<rect x="1910" y="112" width="50" height="602" fill="url(#col20)" mask="url(#mramp)"/>
<rect x="1960" y="112" width="109" height="602" fill="url(#col20)"/>
<linearGradient id="col21" gradientUnits="userSpaceOnUse" x1="0" y1="117" x2="0" y2="709"><stop offset="0.000" stop-color="#13309a"/><stop offset="0.309" stop-color="#0e2884"/><stop offset="0.562" stop-color="#0b2278"/><stop offset="0.998" stop-color="#0c247c"/></linearGradient>
<rect x="1960" y="112" width="109" height="602" fill="url(#col21)" mask="url(#mramp)"/>
<rect x="2069" y="112" width="5" height="602" fill="url(#col21)"/>
<line x1="185" y1="117" x2="120" y2="420" stroke="#2f95e0" stroke-width="22" stroke-linecap="round" opacity="0.7" filter="url(#f0)"/>
<line x1="232" y1="117" x2="238" y2="480" stroke="#27a5e6" stroke-width="16" stroke-linecap="round" opacity="0.8" filter="url(#f1)"/>
<rect x="99" y="615" width="180" height="28" fill="#2256b8" opacity="0.6" filter="url(#f2)"/>
<ellipse cx="248" cy="300" rx="8" ry="25" fill="#1e50b0" opacity="0.8" filter="url(#f3)"/>
<path d="M530.0 100.0 L640.0 100.0 L645.0 240.0 L630.0 300.0 L600.0 330.0 L565.0 335.0 L535.0 290.0 Z" fill="#0ee4f8" filter="url(#f4)"/>
<ellipse cx="585" cy="330" rx="40" ry="40" fill="#18c8f0" opacity="0.6" filter="url(#f5)"/>
<path d="M489.0 112.0 L527.0 112.0 L526.0 200.0 L522.0 265.0 L517.0 292.0 L508.0 250.0 L497.0 190.0 Z" fill="#12287e" filter="url(#f6)"/>
<path d="M531 112 L531 200 L529 300" fill="none" stroke="#70f4ff" stroke-width="7" stroke-linejoin="round" stroke-linecap="round" filter="url(#f7)"/>
<ellipse cx="553" cy="215" rx="30" ry="118" fill="#30ecfc" filter="url(#f8)"/>
<ellipse cx="553" cy="200" rx="22" ry="92" fill="#ffffff" filter="url(#f9)"/>
<ellipse cx="553" cy="185" rx="15" ry="82" fill="#fff830" filter="url(#f10)"/>
<ellipse cx="553" cy="165" rx="7" ry="42" fill="#ffb800" filter="url(#f11)"/>
<path d="M725.0 611.0 L760.0 598.0 L850.0 600.0 L920.0 608.0 L850.0 621.0 L760.0 622.0 Z" fill="#0f2272" filter="url(#f12)"/>
<rect x="1120" y="600" width="590" height="14" fill="#132a84" opacity="0.8" filter="url(#f13)"/>
<rect x="720" y="600" width="420" height="16" fill="#1c3a98" opacity="0.5" filter="url(#f14)"/>
<path d="M1430.0 117.0 L1530.0 117.0 L1550.0 250.0 L1550.0 380.0 L1535.0 450.0 L1500.0 480.0 L1445.0 480.0 L1415.0 440.0 L1408.0 360.0 L1415.0 250.0 Z" fill="#1cb8ec" opacity="0.4" filter="url(#f15)"/>
<path d="M1390.0 490.0 L1600.0 490.0 L1640.0 560.0 L1360.0 560.0 Z" fill="#1e4cb0" opacity="0.5" filter="url(#f16)"/>
<path d="M1570.0 330.0 L1690.0 330.0 L1700.0 560.0 L1570.0 560.0 Z" fill="#2868c8" opacity="0.7" filter="url(#f17)"/>
<path d="M1420.0 117.0 L1530.0 117.0 L1545.0 230.0 L1525.0 310.0 L1470.0 335.0 L1425.0 305.0 L1412.0 220.0 Z" fill="#0ce8fa" opacity="0.7" filter="url(#f18)"/>
<ellipse cx="1441" cy="132" rx="14" ry="14" fill="#70f6ff" opacity="0.85" filter="url(#f19)"/>
<ellipse cx="1490" cy="181" rx="14" ry="14" fill="#70f6ff" opacity="0.85" filter="url(#f20)"/>
<ellipse cx="1453" cy="225" rx="14" ry="14" fill="#70f6ff" opacity="0.85" filter="url(#f21)"/>
<ellipse cx="1486" cy="266" rx="14" ry="14" fill="#70f6ff" opacity="0.85" filter="url(#f22)"/>
<ellipse cx="1482" cy="322" rx="14" ry="14" fill="#70f6ff" opacity="0.85" filter="url(#f23)"/>
<ellipse cx="1475" cy="692" rx="50" ry="22" fill="#2a86da" opacity="0.8" filter="url(#f24)"/>
<ellipse cx="1470" cy="680" rx="70" ry="35" fill="#2a6ed0" opacity="0.5" filter="url(#f25)"/>
<linearGradient id="wg0" gradientUnits="userSpaceOnUse" x1="1098" y1="600" x2="1168.3" y2="100.0"><stop offset="0.0" stop-color="#0e2478" stop-opacity="0"/><stop offset="0.25" stop-color="#0e2478" stop-opacity="0.4"/><stop offset="0.75" stop-color="#0e2478" stop-opacity="0.4"/><stop offset="1.0" stop-color="#0e2478" stop-opacity="0.240"/></linearGradient>
<path d="M1099.8 600.3 L1180.2 101.7 L1156.4 98.3 L1096.2 599.7 Z" fill="url(#wg0)" filter="url(#f26)"/>
<linearGradient id="wg1" gradientUnits="userSpaceOnUse" x1="1098" y1="600" x2="1250.9" y2="100.0"><stop offset="0.0" stop-color="#0e2478" stop-opacity="0"/><stop offset="0.25" stop-color="#0e2478" stop-opacity="0.4"/><stop offset="0.75" stop-color="#0e2478" stop-opacity="0.4"/><stop offset="1.0" stop-color="#0e2478" stop-opacity="0.240"/></linearGradient>
<path d="M1099.7 600.5 L1262.3 103.5 L1239.4 96.5 L1096.3 599.5 Z" fill="url(#wg1)" filter="url(#f27)"/>
<linearGradient id="wg2" gradientUnits="userSpaceOnUse" x1="1098" y1="600" x2="1352.8" y2="100.0"><stop offset="0.0" stop-color="#0e2478" stop-opacity="0"/><stop offset="0.25" stop-color="#0e2478" stop-opacity="0.4"/><stop offset="0.75" stop-color="#0e2478" stop-opacity="0.4"/><stop offset="1.0" stop-color="#0e2478" stop-opacity="0.240"/></linearGradient>
<path d="M1099.6 600.8 L1363.5 105.4 L1342.1 94.6 L1096.4 599.2 Z" fill="url(#wg2)" filter="url(#f28)"/>
<linearGradient id="wg3" gradientUnits="userSpaceOnUse" x1="1098" y1="600" x2="1474.8" y2="100.0"><stop offset="0.0" stop-color="#0e2478" stop-opacity="0"/><stop offset="0.25" stop-color="#0e2478" stop-opacity="0.4"/><stop offset="0.75" stop-color="#0e2478" stop-opacity="0.4"/><stop offset="1.0" stop-color="#0e2478" stop-opacity="0.240"/></linearGradient>
<path d="M1099.4 601.1 L1484.4 107.2 L1465.2 92.8 L1096.6 598.9 Z" fill="url(#wg3)" filter="url(#f29)"/>
<linearGradient id="wg4" gradientUnits="userSpaceOnUse" x1="1098" y1="600" x2="1590.0" y2="124.9"><stop offset="0" stop-color="#0e2478" stop-opacity="0"/><stop offset="0.25" stop-color="#0e2478" stop-opacity="0.4"/><stop offset="0.55" stop-color="#0e2478" stop-opacity="0.4"/><stop offset="1.0" stop-color="#0e2478" stop-opacity="0.000"/></linearGradient>
<path d="M1099.0 601.1 L1596.9 132.1 L1583.1 117.7 L1097.0 598.9 Z" fill="url(#wg4)" filter="url(#f30)"/>
<linearGradient id="wg5" gradientUnits="userSpaceOnUse" x1="1098" y1="600" x2="1590.0" y2="215.6"><stop offset="0" stop-color="#0e2478" stop-opacity="0"/><stop offset="0.25" stop-color="#0e2478" stop-opacity="0.4"/><stop offset="0.55" stop-color="#0e2478" stop-opacity="0.4"/><stop offset="1.0" stop-color="#0e2478" stop-opacity="0.000"/></linearGradient>
<path d="M1098.9 601.2 L1596.2 223.5 L1583.8 207.7 L1097.1 598.8 Z" fill="url(#wg5)" filter="url(#f31)"/>
<linearGradient id="wg6" gradientUnits="userSpaceOnUse" x1="1098" y1="600" x2="1590.0" y2="280.5"><stop offset="0" stop-color="#0e2478" stop-opacity="0"/><stop offset="0.25" stop-color="#0e2478" stop-opacity="0.4"/><stop offset="0.55" stop-color="#0e2478" stop-opacity="0.4"/><stop offset="1.0" stop-color="#0e2478" stop-opacity="0.000"/></linearGradient>
<path d="M1098.8 601.3 L1595.4 288.9 L1584.6 272.1 L1097.2 598.7 Z" fill="url(#wg6)" filter="url(#f32)"/>
<linearGradient id="wg7" gradientUnits="userSpaceOnUse" x1="1098" y1="600" x2="1590.0" y2="338.4"><stop offset="0" stop-color="#0e2478" stop-opacity="0"/><stop offset="0.25" stop-color="#0e2478" stop-opacity="0.4"/><stop offset="0.55" stop-color="#0e2478" stop-opacity="0.4"/><stop offset="1.0" stop-color="#0e2478" stop-opacity="0.000"/></linearGradient>
<path d="M1098.7 601.3 L1594.7 347.2 L1585.3 329.6 L1097.3 598.7 Z" fill="url(#wg7)" filter="url(#f33)"/>
<linearGradient id="wg8" gradientUnits="userSpaceOnUse" x1="1098" y1="600" x2="1590.0" y2="391.2"><stop offset="0" stop-color="#0e2478" stop-opacity="0"/><stop offset="0.25" stop-color="#0e2478" stop-opacity="0.4"/><stop offset="0.55" stop-color="#0e2478" stop-opacity="0.4"/><stop offset="1.0" stop-color="#0e2478" stop-opacity="0.000"/></linearGradient>
<path d="M1098.6 601.4 L1593.9 400.4 L1586.1 382.0 L1097.4 598.6 Z" fill="url(#wg8)" filter="url(#f34)"/>
<linearGradient id="wg9" gradientUnits="userSpaceOnUse" x1="1098" y1="600" x2="1204.3" y2="100.0"><stop offset="0.0" stop-color="#3a8ee2" stop-opacity="0"/><stop offset="0.25" stop-color="#3a8ee2" stop-opacity="0.3"/><stop offset="0.75" stop-color="#3a8ee2" stop-opacity="0.3"/><stop offset="1.0" stop-color="#3a8ee2" stop-opacity="0.180"/></linearGradient>
<path d="M1099.3 600.3 L1213.1 101.9 L1195.5 98.1 L1096.7 599.7 Z" fill="url(#wg9)" filter="url(#f35)"/>
<linearGradient id="wg10" gradientUnits="userSpaceOnUse" x1="1098" y1="600" x2="1300.0" y2="100.0"><stop offset="0.0" stop-color="#3a8ee2" stop-opacity="0"/><stop offset="0.25" stop-color="#3a8ee2" stop-opacity="0.3"/><stop offset="0.75" stop-color="#3a8ee2" stop-opacity="0.3"/><stop offset="1.0" stop-color="#3a8ee2" stop-opacity="0.180"/></linearGradient>
<path d="M1099.3 600.5 L1308.4 103.4 L1291.7 96.6 L1096.7 599.5 Z" fill="url(#wg10)" filter="url(#f36)"/>
<linearGradient id="wg11" gradientUnits="userSpaceOnUse" x1="1098" y1="600" x2="1410.4" y2="100.0"><stop offset="0.0" stop-color="#3a8ee2" stop-opacity="0"/><stop offset="0.25" stop-color="#3a8ee2" stop-opacity="0.3"/><stop offset="0.75" stop-color="#3a8ee2" stop-opacity="0.3"/><stop offset="1.0" stop-color="#3a8ee2" stop-opacity="0.180"/></linearGradient>
<path d="M1099.1 600.7 L1418.1 104.8 L1402.8 95.2 L1096.9 599.3 Z" fill="url(#wg11)" filter="url(#f37)"/>
<linearGradient id="wg12" gradientUnits="userSpaceOnUse" x1="1098" y1="600" x2="1480.0" y2="160.6"><stop offset="0" stop-color="#3a8ee2" stop-opacity="0"/><stop offset="0.25" stop-color="#3a8ee2" stop-opacity="0.3"/><stop offset="0.55" stop-color="#3a8ee2" stop-opacity="0.3"/><stop offset="1.0" stop-color="#3a8ee2" stop-opacity="0.000"/></linearGradient>
<path d="M1099.0 600.9 L1486.8 166.5 L1473.2 154.7 L1097.0 599.1 Z" fill="url(#wg12)" filter="url(#f38)"/>
<linearGradient id="wg13" gradientUnits="userSpaceOnUse" x1="1098" y1="600" x2="1480.0" y2="279.5"><stop offset="0" stop-color="#3a8ee2" stop-opacity="0"/><stop offset="0.25" stop-color="#3a8ee2" stop-opacity="0.3"/><stop offset="0.55" stop-color="#3a8ee2" stop-opacity="0.3"/><stop offset="1.0" stop-color="#3a8ee2" stop-opacity="0.000"/></linearGradient>
<path d="M1098.9 601.0 L1485.8 286.4 L1474.2 272.6 L1097.1 599.0 Z" fill="url(#wg13)" filter="url(#f39)"/>
<linearGradient id="wg14" gradientUnits="userSpaceOnUse" x1="1098" y1="600" x2="1480.0" y2="361.3"><stop offset="0" stop-color="#3a8ee2" stop-opacity="0"/><stop offset="0.25" stop-color="#3a8ee2" stop-opacity="0.3"/><stop offset="0.55" stop-color="#3a8ee2" stop-opacity="0.3"/><stop offset="1.0" stop-color="#3a8ee2" stop-opacity="0.000"/></linearGradient>
<path d="M1098.7 601.1 L1484.8 368.9 L1475.2 353.7 L1097.3 598.9 Z" fill="url(#wg14)" filter="url(#f40)"/>
<linearGradient id="wg15" gradientUnits="userSpaceOnUse" x1="1098" y1="600" x2="1480.0" y2="421.9"><stop offset="0" stop-color="#3a8ee2" stop-opacity="0"/><stop offset="0.25" stop-color="#3a8ee2" stop-opacity="0.3"/><stop offset="0.55" stop-color="#3a8ee2" stop-opacity="0.3"/><stop offset="1.0" stop-color="#3a8ee2" stop-opacity="0.000"/></linearGradient>
<path d="M1098.5 601.1 L1483.6 429.5 L1476.4 414.2 L1097.5 598.9 Z" fill="url(#wg15)" filter="url(#f41)"/>
<linearGradient id="wg16" gradientUnits="userSpaceOnUse" x1="1078" y1="600" x2="1007.7" y2="100.0"><stop offset="0.0" stop-color="#0e2478" stop-opacity="0"/><stop offset="0.25" stop-color="#0e2478" stop-opacity="0.36"/><stop offset="0.75" stop-color="#0e2478" stop-opacity="0.36"/><stop offset="1.0" stop-color="#0e2478" stop-opacity="0.216"/></linearGradient>
<path d="M1079.6 599.8 L1018.6 98.5 L996.8 101.5 L1076.4 600.2 Z" fill="url(#wg16)" filter="url(#f42)"/>
<linearGradient id="wg17" gradientUnits="userSpaceOnUse" x1="1078" y1="600" x2="934.6" y2="100.0"><stop offset="0.0" stop-color="#0e2478" stop-opacity="0"/><stop offset="0.25" stop-color="#0e2478" stop-opacity="0.36"/><stop offset="0.75" stop-color="#0e2478" stop-opacity="0.36"/><stop offset="1.0" stop-color="#0e2478" stop-opacity="0.216"/></linearGradient>
<path d="M1079.6 599.5 L945.2 97.0 L924.1 103.0 L1076.4 600.5 Z" fill="url(#wg17)" filter="url(#f43)"/>
<linearGradient id="wg18" gradientUnits="userSpaceOnUse" x1="1078" y1="600" x2="844.8" y2="100.0"><stop offset="0.0" stop-color="#0e2478" stop-opacity="0"/><stop offset="0.25" stop-color="#0e2478" stop-opacity="0.36"/><stop offset="0.75" stop-color="#0e2478" stop-opacity="0.36"/><stop offset="1.0" stop-color="#0e2478" stop-opacity="0.216"/></linearGradient>
<path d="M1079.5 599.3 L854.8 95.4 L834.9 104.6 L1076.5 600.7 Z" fill="url(#wg18)" filter="url(#f44)"/>
<linearGradient id="wg19" gradientUnits="userSpaceOnUse" x1="1078" y1="600" x2="760.0" y2="110.3"><stop offset="0" stop-color="#0e2478" stop-opacity="0"/><stop offset="0.25" stop-color="#0e2478" stop-opacity="0.36"/><stop offset="0.55" stop-color="#0e2478" stop-opacity="0.36"/><stop offset="1.0" stop-color="#0e2478" stop-opacity="0.000"/></linearGradient>
<path d="M1079.4 599.1 L769.2 104.3 L750.8 116.3 L1076.6 600.9 Z" fill="url(#wg19)" filter="url(#f45)"/>
<linearGradient id="wg20" gradientUnits="userSpaceOnUse" x1="1078" y1="600" x2="760.0" y2="234.2"><stop offset="0" stop-color="#0e2478" stop-opacity="0"/><stop offset="0.25" stop-color="#0e2478" stop-opacity="0.36"/><stop offset="0.55" stop-color="#0e2478" stop-opacity="0.36"/><stop offset="1.0" stop-color="#0e2478" stop-opacity="0.000"/></linearGradient>
<path d="M1079.2 598.9 L768.3 227.0 L751.7 241.4 L1076.8 601.1 Z" fill="url(#wg20)" filter="url(#f46)"/>
<linearGradient id="wg21" gradientUnits="userSpaceOnUse" x1="1078" y1="600" x2="760.0" y2="323.6"><stop offset="0" stop-color="#0e2478" stop-opacity="0"/><stop offset="0.25" stop-color="#0e2478" stop-opacity="0.36"/><stop offset="0.55" stop-color="#0e2478" stop-opacity="0.36"/><stop offset="1.0" stop-color="#0e2478" stop-opacity="0.000"/></linearGradient>
<path d="M1079.0 598.8 L766.8 315.8 L753.2 331.3 L1077.0 601.2 Z" fill="url(#wg21)" filter="url(#f47)"/>
<linearGradient id="wg22" gradientUnits="userSpaceOnUse" x1="1078" y1="600" x2="760.0" y2="393.5"><stop offset="0" stop-color="#0e2478" stop-opacity="0"/><stop offset="0.25" stop-color="#0e2478" stop-opacity="0.36"/><stop offset="0.55" stop-color="#0e2478" stop-opacity="0.36"/><stop offset="1.0" stop-color="#0e2478" stop-opacity="0.000"/></linearGradient>
<path d="M1078.8 598.8 L765.0 385.7 L755.0 401.3 L1077.2 601.2 Z" fill="url(#wg22)" filter="url(#f48)"/>
<linearGradient id="wg23" gradientUnits="userSpaceOnUse" x1="1078" y1="600" x2="971.7" y2="100.0"><stop offset="0.0" stop-color="#3a8ee2" stop-opacity="0"/><stop offset="0.25" stop-color="#3a8ee2" stop-opacity="0.25"/><stop offset="0.75" stop-color="#3a8ee2" stop-opacity="0.25"/><stop offset="1.0" stop-color="#3a8ee2" stop-opacity="0.150"/></linearGradient>
<path d="M1079.3 599.7 L980.5 98.1 L962.9 101.9 L1076.7 600.3 Z" fill="url(#wg23)" filter="url(#f49)"/>
<linearGradient id="wg24" gradientUnits="userSpaceOnUse" x1="1078" y1="600" x2="896.0" y2="100.0"><stop offset="0.0" stop-color="#3a8ee2" stop-opacity="0"/><stop offset="0.25" stop-color="#3a8ee2" stop-opacity="0.25"/><stop offset="0.75" stop-color="#3a8ee2" stop-opacity="0.25"/><stop offset="1.0" stop-color="#3a8ee2" stop-opacity="0.150"/></linearGradient>
<path d="M1079.3 599.5 L904.5 96.9 L887.6 103.1 L1076.7 600.5 Z" fill="url(#wg24)" filter="url(#f50)"/>
<linearGradient id="wg25" gradientUnits="userSpaceOnUse" x1="1078" y1="600" x2="800.8" y2="100.0"><stop offset="0.0" stop-color="#3a8ee2" stop-opacity="0"/><stop offset="0.25" stop-color="#3a8ee2" stop-opacity="0.25"/><stop offset="0.75" stop-color="#3a8ee2" stop-opacity="0.25"/><stop offset="1.0" stop-color="#3a8ee2" stop-opacity="0.150"/></linearGradient>
<path d="M1079.2 599.3 L808.7 95.6 L793.0 104.4 L1076.8 600.7 Z" fill="url(#wg25)" filter="url(#f51)"/>
<linearGradient id="wg26" gradientUnits="userSpaceOnUse" x1="1078" y1="600" x2="760.0" y2="178.0"><stop offset="0" stop-color="#3a8ee2" stop-opacity="0"/><stop offset="0.25" stop-color="#3a8ee2" stop-opacity="0.25"/><stop offset="0.55" stop-color="#3a8ee2" stop-opacity="0.25"/><stop offset="1.0" stop-color="#3a8ee2" stop-opacity="0.000"/></linearGradient>
<path d="M1079.1 599.2 L767.2 172.6 L752.8 183.4 L1076.9 600.8 Z" fill="url(#wg26)" filter="url(#f52)"/>
<linearGradient id="wg27" gradientUnits="userSpaceOnUse" x1="1078" y1="600" x2="760.0" y2="282.0"><stop offset="0" stop-color="#3a8ee2" stop-opacity="0"/><stop offset="0.25" stop-color="#3a8ee2" stop-opacity="0.25"/><stop offset="0.55" stop-color="#3a8ee2" stop-opacity="0.25"/><stop offset="1.0" stop-color="#3a8ee2" stop-opacity="0.000"/></linearGradient>
<path d="M1079.0 599.0 L766.4 275.6 L753.6 288.4 L1077.0 601.0 Z" fill="url(#wg27)" filter="url(#f53)"/>
<linearGradient id="wg28" gradientUnits="userSpaceOnUse" x1="1078" y1="600" x2="760.0" y2="360.4"><stop offset="0" stop-color="#3a8ee2" stop-opacity="0"/><stop offset="0.25" stop-color="#3a8ee2" stop-opacity="0.25"/><stop offset="0.55" stop-color="#3a8ee2" stop-opacity="0.25"/><stop offset="1.0" stop-color="#3a8ee2" stop-opacity="0.000"/></linearGradient>
<path d="M1078.7 599.0 L764.8 354.0 L755.2 366.7 L1077.3 601.0 Z" fill="url(#wg28)" filter="url(#f54)"/>
<linearGradient id="wg29" gradientUnits="userSpaceOnUse" x1="285" y1="640" x2="150.4" y2="100.0"><stop offset="0.0" stop-color="#3a8ee2" stop-opacity="0"/><stop offset="0.25" stop-color="#3a8ee2" stop-opacity="0.25"/><stop offset="0.75" stop-color="#3a8ee2" stop-opacity="0.25"/><stop offset="1.0" stop-color="#3a8ee2" stop-opacity="0.150"/></linearGradient>
<path d="M286.2 639.7 L158.1 98.1 L142.6 101.9 L283.8 640.3 Z" fill="url(#wg29)" filter="url(#f55)"/>
<linearGradient id="wg30" gradientUnits="userSpaceOnUse" x1="285" y1="640" x2="99.0" y2="179.6"><stop offset="0" stop-color="#3a8ee2" stop-opacity="0"/><stop offset="0.25" stop-color="#3a8ee2" stop-opacity="0.25"/><stop offset="0.55" stop-color="#3a8ee2" stop-opacity="0.25"/><stop offset="1.0" stop-color="#3a8ee2" stop-opacity="0.000"/></linearGradient>
<path d="M286.1 639.6 L106.4 176.6 L91.6 182.6 L283.9 640.4 Z" fill="url(#wg30)" filter="url(#f56)"/>
<linearGradient id="wg31" gradientUnits="userSpaceOnUse" x1="285" y1="640" x2="99.0" y2="317.8"><stop offset="0" stop-color="#3a8ee2" stop-opacity="0"/><stop offset="0.25" stop-color="#3a8ee2" stop-opacity="0.25"/><stop offset="0.55" stop-color="#3a8ee2" stop-opacity="0.25"/><stop offset="1.0" stop-color="#3a8ee2" stop-opacity="0.000"/></linearGradient>
<path d="M285.9 639.5 L104.7 314.5 L93.3 321.1 L284.1 640.5 Z" fill="url(#wg31)" filter="url(#f57)"/>
<linearGradient id="wg32" gradientUnits="userSpaceOnUse" x1="285" y1="640" x2="99.0" y2="401.9"><stop offset="0" stop-color="#3a8ee2" stop-opacity="0"/><stop offset="0.25" stop-color="#3a8ee2" stop-opacity="0.25"/><stop offset="0.55" stop-color="#3a8ee2" stop-opacity="0.25"/><stop offset="1.0" stop-color="#3a8ee2" stop-opacity="0.000"/></linearGradient>
<path d="M285.6 639.5 L103.2 398.6 L94.8 405.2 L284.4 640.5 Z" fill="url(#wg32)" filter="url(#f58)"/>
<linearGradient id="wg33" gradientUnits="userSpaceOnUse" x1="285" y1="640" x2="109.5" y2="100.0"><stop offset="0.0" stop-color="#2358b8" stop-opacity="0"/><stop offset="0.25" stop-color="#2358b8" stop-opacity="0.3"/><stop offset="0.75" stop-color="#2358b8" stop-opacity="0.3"/><stop offset="1.0" stop-color="#2358b8" stop-opacity="0.180"/></linearGradient>
<path d="M286.0 639.7 L116.2 97.8 L102.9 102.2 L284.0 640.3 Z" fill="url(#wg33)" filter="url(#f59)"/>
<linearGradient id="wg34" gradientUnits="userSpaceOnUse" x1="285" y1="640" x2="99.0" y2="258.6"><stop offset="0" stop-color="#2358b8" stop-opacity="0"/><stop offset="0.25" stop-color="#2358b8" stop-opacity="0.3"/><stop offset="0.55" stop-color="#2358b8" stop-opacity="0.3"/><stop offset="1.0" stop-color="#2358b8" stop-opacity="0.000"/></linearGradient>
<path d="M285.9 639.6 L104.9 255.8 L93.1 261.5 L284.1 640.4 Z" fill="url(#wg34)" filter="url(#f60)"/>
<linearGradient id="wg35" gradientUnits="userSpaceOnUse" x1="285" y1="640" x2="99.0" y2="364.2"><stop offset="0" stop-color="#2358b8" stop-opacity="0"/><stop offset="0.25" stop-color="#2358b8" stop-opacity="0.3"/><stop offset="0.55" stop-color="#2358b8" stop-opacity="0.3"/><stop offset="1.0" stop-color="#2358b8" stop-opacity="0.000"/></linearGradient>
<path d="M285.6 639.6 L103.3 361.4 L94.7 367.1 L284.4 640.4 Z" fill="url(#wg35)" filter="url(#f61)"/>
<linearGradient id="wg36" gradientUnits="userSpaceOnUse" x1="1890" y1="640" x2="2004.8" y2="100.0"><stop offset="0.0" stop-color="#2c62c8" stop-opacity="0"/><stop offset="0.25" stop-color="#2c62c8" stop-opacity="0.35"/><stop offset="0.75" stop-color="#2c62c8" stop-opacity="0.35"/><stop offset="1.0" stop-color="#2c62c8" stop-opacity="0.210"/></linearGradient>
<path d="M1891.2 640.2 L2012.6 101.7 L1997.0 98.3 L1888.8 639.8 Z" fill="url(#wg36)" filter="url(#f62)"/>
<linearGradient id="wg37" gradientUnits="userSpaceOnUse" x1="1890" y1="640" x2="2075.0" y2="131.7"><stop offset="0" stop-color="#2c62c8" stop-opacity="0"/><stop offset="0.25" stop-color="#2c62c8" stop-opacity="0.35"/><stop offset="0.55" stop-color="#2c62c8" stop-opacity="0.35"/><stop offset="1.0" stop-color="#2c62c8" stop-opacity="0.000"/></linearGradient>
<path d="M1891.1 640.4 L2082.5 134.5 L2067.5 129.0 L1888.9 639.6 Z" fill="url(#wg37)" filter="url(#f63)"/>
<linearGradient id="wg38" gradientUnits="userSpaceOnUse" x1="1890" y1="640" x2="2075.0" y2="292.1"><stop offset="0" stop-color="#2c62c8" stop-opacity="0"/><stop offset="0.25" stop-color="#2c62c8" stop-opacity="0.35"/><stop offset="0.55" stop-color="#2c62c8" stop-opacity="0.35"/><stop offset="1.0" stop-color="#2c62c8" stop-opacity="0.000"/></linearGradient>
<path d="M1890.9 640.5 L2081.2 295.4 L2068.8 288.8 L1889.1 639.5 Z" fill="url(#wg38)" filter="url(#f64)"/>
<linearGradient id="wg39" gradientUnits="userSpaceOnUse" x1="1890" y1="640" x2="2075.0" y2="385.4"><stop offset="0" stop-color="#2c62c8" stop-opacity="0"/><stop offset="0.25" stop-color="#2c62c8" stop-opacity="0.35"/><stop offset="0.55" stop-color="#2c62c8" stop-opacity="0.35"/><stop offset="1.0" stop-color="#2c62c8" stop-opacity="0.000"/></linearGradient>
<path d="M1890.7 640.5 L2079.5 388.7 L2070.5 382.1 L1889.3 639.5 Z" fill="url(#wg39)" filter="url(#f65)"/>
<linearGradient id="wg40" gradientUnits="userSpaceOnUse" x1="1890" y1="640" x2="2075.0" y2="448.4"><stop offset="0" stop-color="#2c62c8" stop-opacity="0"/><stop offset="0.25" stop-color="#2c62c8" stop-opacity="0.35"/><stop offset="0.55" stop-color="#2c62c8" stop-opacity="0.35"/><stop offset="1.0" stop-color="#2c62c8" stop-opacity="0.000"/></linearGradient>
<path d="M1890.5 640.5 L2078.4 451.7 L2071.6 445.1 L1889.5 639.5 Z" fill="url(#wg40)" filter="url(#f66)"/>
<linearGradient id="wg41" gradientUnits="userSpaceOnUse" x1="1890" y1="640" x2="2044.8" y2="100.0"><stop offset="0.0" stop-color="#0c2070" stop-opacity="0"/><stop offset="0.25" stop-color="#0c2070" stop-opacity="0.3"/><stop offset="0.75" stop-color="#0c2070" stop-opacity="0.3"/><stop offset="1.0" stop-color="#0c2070" stop-opacity="0.180"/></linearGradient>
<path d="M1891.0 640.3 L2051.6 101.9 L2038.1 98.1 L1889.0 639.7 Z" fill="url(#wg41)" filter="url(#f67)"/>
<linearGradient id="wg42" gradientUnits="userSpaceOnUse" x1="1890" y1="640" x2="2075.0" y2="224.5"><stop offset="0" stop-color="#0c2070" stop-opacity="0"/><stop offset="0.25" stop-color="#0c2070" stop-opacity="0.3"/><stop offset="0.55" stop-color="#0c2070" stop-opacity="0.3"/><stop offset="1.0" stop-color="#0c2070" stop-opacity="0.000"/></linearGradient>
<path d="M1891.0 640.4 L2081.4 227.3 L2068.6 221.6 L1889.0 639.6 Z" fill="url(#wg42)" filter="url(#f68)"/>
<linearGradient id="wg43" gradientUnits="userSpaceOnUse" x1="1890" y1="640" x2="2075.0" y2="343.9"><stop offset="0" stop-color="#0c2070" stop-opacity="0"/><stop offset="0.25" stop-color="#0c2070" stop-opacity="0.3"/><stop offset="0.55" stop-color="#0c2070" stop-opacity="0.3"/><stop offset="1.0" stop-color="#0c2070" stop-opacity="0.000"/></linearGradient>
<path d="M1890.7 640.4 L2079.6 346.8 L2070.4 341.1 L1889.3 639.6 Z" fill="url(#wg43)" filter="url(#f69)"/>
<linearGradient id="wg44" gradientUnits="userSpaceOnUse" x1="1890" y1="640" x2="2075.0" y2="419.5"><stop offset="0" stop-color="#0c2070" stop-opacity="0"/><stop offset="0.25" stop-color="#0c2070" stop-opacity="0.3"/><stop offset="0.55" stop-color="#0c2070" stop-opacity="0.3"/><stop offset="1.0" stop-color="#0c2070" stop-opacity="0.000"/></linearGradient>
<path d="M1890.5 640.4 L2078.4 422.4 L2071.6 416.6 L1889.5 639.6 Z" fill="url(#wg44)" filter="url(#f70)"/>
<line x1="612" y1="200" x2="660" y2="495" stroke="#20b8ec" stroke-width="10" stroke-linecap="round" opacity="0.7" filter="url(#f71)"/>
<path d="M637.0 112.0 L648.0 250.0 L655.0 315.0 L680.0 403.0 L697.0 491.0 L706.0 540.0 L714.0 578.0 L718.0 578.0 L724.0 540.0 L728.0 491.0 L724.0 403.0 L716.0 315.0 L712.0 250.0 L707.0 112.0 Z" fill="#122a80" filter="url(#f72)"/>
<path d="M634 250 Q637 285 643 315 Q660 410 689 491 Q700 530 712 575" fill="none" stroke="#12dcf6" stroke-width="9" stroke-linejoin="round" stroke-linecap="round" filter="url(#f73)"/>
<path d="M636 280 Q638 295 643 315 Q660 410 689 491 Q700 530 712 575" fill="none" stroke="#8ff4fc" stroke-width="3" stroke-linejoin="round" stroke-linecap="round" opacity="0.7" filter="url(#f74)"/>
<path d="M705.0 112.0 L707.0 160.0 L711.0 227.0 L714.0 290.0 L717.0 345.0 L721.0 403.0 L725.6 462.0 L730.0 491.0 L735.0 510.0 L751.0 510.0 L758.0 491.0 L762.0 462.0 L766.6 403.0 L767.0 345.0 L767.0 290.0 L765.0 227.0 L763.0 160.0 L760.0 112.0 Z" fill="none" stroke="#10dcf8" stroke-width="22" stroke-linejoin="round" stroke-linecap="round" opacity="0.9" filter="url(#f75)"/>
<path d="M705.0 112.0 L707.0 160.0 L711.0 227.0 L714.0 290.0 L717.0 345.0 L721.0 403.0 L725.6 462.0 L730.0 491.0 L735.0 510.0 L751.0 510.0 L758.0 491.0 L762.0 462.0 L766.6 403.0 L767.0 345.0 L767.0 290.0 L765.0 227.0 L763.0 160.0 L760.0 112.0 Z" fill="#12e2fa" filter="url(#f76)"/>
<path d="M708.0 112.0 L710.0 160.0 L714.0 227.0 L717.0 290.0 L720.0 345.0 L724.0 403.0 L728.6 462.0 L733.0 491.0 L738.0 510.0 L740.0 522.0 L748.0 510.0 L755.0 491.0 L759.0 462.0 L763.6 403.0 L764.0 345.0 L764.0 290.0 L762.0 227.0 L760.0 160.0 L757.0 112.0 Z" fill="#ffffff" filter="url(#f77)"/>
<path d="M711.0 112.0 L713.0 160.0 L717.0 227.0 L720.0 290.0 L723.0 345.0 L727.0 403.0 L731.6 462.0 L736.0 491.0 L739.0 500.0 L752.0 491.0 L756.0 462.0 L760.6 403.0 L761.0 345.0 L761.0 290.0 L759.0 227.0 L757.0 160.0 L754.0 112.0 Z" fill="#fff41c" filter="url(#f78)"/>
<path d="M724.0 240.0 L735.0 236.0 L752.0 250.0 L758.0 320.0 L757.0 420.0 L750.0 470.0 L740.0 485.0 L731.0 470.0 L727.0 400.0 L725.0 320.0 Z" fill="#ff8a00" filter="url(#f79)"/>
<path d="M729.0 290.0 L745.0 285.0 L754.0 330.0 L753.0 410.0 L746.0 450.0 L738.0 455.0 L732.0 420.0 L730.0 350.0 Z" fill="#ff2a00" filter="url(#f80)"/>
<path d="M736.0 320.0 L748.0 318.0 L751.0 380.0 L746.0 420.0 L740.0 420.0 L737.0 380.0 Z" fill="#e00800" filter="url(#f81)"/>
<path d="M712.0 112.0 L730.0 112.0 L729.0 150.0 L726.0 185.0 L718.0 180.0 L714.0 150.0 Z" fill="#ff8c00" filter="url(#f82)"/>
<ellipse cx="734.5" cy="217" rx="6" ry="11" fill="#ffffff" filter="url(#f83)"/>
<ellipse cx="734.5" cy="217" rx="2.5" ry="6" fill="#30e8fa" filter="url(#f84)"/>
<path d="M688 712 Q690 640 718 630 Q745 625 762 712" fill="none" stroke="#10e0f8" stroke-width="12" stroke-linejoin="round" stroke-linecap="round" filter="url(#f85)"/>
<path d="M705 712 Q706 660 720 652 Q735 650 742 712" fill="none" stroke="#2a62c6" stroke-width="10" stroke-linejoin="round" stroke-linecap="round" opacity="0.9" filter="url(#f86)"/>
<path d="M722.0 712.0 L724.0 670.0 L728.0 645.0 L735.0 638.0 L745.0 650.0 L752.0 680.0 L758.0 712.0 Z" fill="#ffffff" filter="url(#f87)"/>
<path d="M726.0 712.0 L729.0 675.0 L733.0 658.0 L740.0 656.0 L748.0 680.0 L753.0 712.0 Z" fill="#fff41c" filter="url(#f88)"/>
<path d="M731.0 712.0 L733.0 688.0 L737.0 675.0 L743.0 688.0 L746.0 712.0 Z" fill="#ff4000" filter="url(#f89)"/>
<ellipse cx="724" cy="630" rx="14" ry="10" fill="#f8fff0" filter="url(#f90)"/>
<ellipse cx="514" cy="703" rx="16" ry="14" fill="#10e0f8" filter="url(#f91)"/>
<ellipse cx="514" cy="706" rx="10" ry="9" fill="#ffffff" filter="url(#f92)"/>
<ellipse cx="514" cy="708" rx="6" ry="5" fill="#ffee30" filter="url(#f93)"/>
<path d="M249.0 112.0 L253.0 160.0 L259.0 230.0 L268.0 307.0 L276.0 390.0 L281.0 457.0 L284.0 504.0 L286.0 544.0 L288.0 583.0 L288.0 622.0 L285.0 662.0 L283.0 712.0 L425.0 712.0 L425.0 620.0 L427.0 540.0 L429.0 470.0 L432.0 420.0 L436.0 375.0 L440.0 350.0 L446.0 333.0 L452.0 355.0 L463.0 390.0 L480.0 440.0 L500.0 478.0 L512.0 500.0 L519.0 506.0 L524.0 500.0 L529.0 485.0 L530.0 465.0 L525.0 400.0 L516.0 347.0 L500.0 290.0 L488.0 228.0 L478.0 170.0 L470.0 112.0 Z" fill="none" stroke="#10c8f2" stroke-width="50" stroke-linejoin="round" stroke-linecap="round" opacity="0.55" filter="url(#f94)"/>
<path d="M249.0 112.0 L253.0 160.0 L259.0 230.0 L268.0 307.0 L276.0 390.0 L281.0 457.0 L284.0 504.0 L286.0 544.0 L288.0 583.0 L288.0 622.0 L285.0 662.0 L283.0 712.0 L425.0 712.0 L425.0 620.0 L427.0 540.0 L429.0 470.0 L432.0 420.0 L436.0 375.0 L440.0 350.0 L446.0 333.0 L452.0 355.0 L463.0 390.0 L480.0 440.0 L500.0 478.0 L512.0 500.0 L519.0 506.0 L524.0 500.0 L529.0 485.0 L530.0 465.0 L525.0 400.0 L516.0 347.0 L500.0 290.0 L488.0 228.0 L478.0 170.0 L470.0 112.0 Z" fill="none" stroke="#08dcf8" stroke-width="32" stroke-linejoin="round" stroke-linecap="round" opacity="1.0" filter="url(#f95)"/>
<path d="M249.0 112.0 L253.0 160.0 L259.0 230.0 L268.0 307.0 L276.0 390.0 L281.0 457.0 L284.0 504.0 L286.0 544.0 L288.0 583.0 L288.0 622.0 L285.0 662.0 L283.0 712.0 L425.0 712.0 L425.0 620.0 L427.0 540.0 L429.0 470.0 L432.0 420.0 L436.0 375.0 L440.0 350.0 L446.0 333.0 L452.0 355.0 L463.0 390.0 L480.0 440.0 L500.0 478.0 L512.0 500.0 L519.0 506.0 L524.0 500.0 L529.0 485.0 L530.0 465.0 L525.0 400.0 L516.0 347.0 L500.0 290.0 L488.0 228.0 L478.0 170.0 L470.0 112.0 Z" fill="none" stroke="#ffffff" stroke-width="22" stroke-linejoin="round" stroke-linecap="round" filter="url(#f96)"/>
<path d="M249.0 112.0 L253.0 160.0 L259.0 230.0 L268.0 307.0 L276.0 390.0 L281.0 457.0 L284.0 504.0 L286.0 544.0 L288.0 583.0 L288.0 622.0 L285.0 662.0 L283.0 712.0 L425.0 712.0 L425.0 620.0 L427.0 540.0 L429.0 470.0 L432.0 420.0 L436.0 375.0 L440.0 350.0 L446.0 333.0 L452.0 355.0 L463.0 390.0 L480.0 440.0 L500.0 478.0 L512.0 500.0 L519.0 506.0 L524.0 500.0 L529.0 485.0 L530.0 465.0 L525.0 400.0 L516.0 347.0 L500.0 290.0 L488.0 228.0 L478.0 170.0 L470.0 112.0 Z" fill="none" stroke="#ffee20" stroke-width="15.0" stroke-linejoin="round" stroke-linecap="round" filter="url(#f97)"/>
<path d="M249.0 112.0 L253.0 160.0 L259.0 230.0 L268.0 307.0 L276.0 390.0 L281.0 457.0 L284.0 504.0 L286.0 544.0 L288.0 583.0 L288.0 622.0 L285.0 662.0 L283.0 712.0 L425.0 712.0 L425.0 620.0 L427.0 540.0 L429.0 470.0 L432.0 420.0 L436.0 375.0 L440.0 350.0 L446.0 333.0 L452.0 355.0 L463.0 390.0 L480.0 440.0 L500.0 478.0 L512.0 500.0 L519.0 506.0 L524.0 500.0 L529.0 485.0 L530.0 465.0 L525.0 400.0 L516.0 347.0 L500.0 290.0 L488.0 228.0 L478.0 170.0 L470.0 112.0 Z" fill="none" stroke="#ff3000" stroke-width="7.0" stroke-linejoin="round" stroke-linecap="round" filter="url(#f98)"/>
<path d="M441 345 L446 333 L452 355 L463 390 L480 440 L500 478 L512 500 L519 506" fill="none" stroke="#ffffff" stroke-width="44" stroke-linejoin="round" stroke-linecap="round" opacity="0.95" filter="url(#f99)"/>
<path d="M431 440 L433 400 L436 375 L440 350 L446 333" fill="none" stroke="#ffffff" stroke-width="24" stroke-linejoin="round" stroke-linecap="round" opacity="0.9" filter="url(#f100)"/>
<path d="M441 345 L446 333 L452 355 L463 390 L480 440 L500 478 L512 500 L519 506" fill="none" stroke="#fff030" stroke-width="30" stroke-linejoin="round" stroke-linecap="round" filter="url(#f101)"/>
<path d="M431 440 L433 400 L436 375 L440 350 L446 333" fill="none" stroke="#fff030" stroke-width="14" stroke-linejoin="round" stroke-linecap="round" filter="url(#f102)"/>
<path d="M441 345 L446 333 L452 355 L463 390 L480 440 L500 478 L512 500 L519 506" fill="none" stroke="#ff9000" stroke-width="18" stroke-linejoin="round" stroke-linecap="round" filter="url(#f103)"/>
<path d="M441 345 L446 333 L452 355 L463 390 L480 440 L500 478 L512 500 L519 506" fill="none" stroke="#ff2000" stroke-width="10" stroke-linejoin="round" stroke-linecap="round" filter="url(#f104)"/>
<ellipse cx="521" cy="514" rx="10" ry="16" fill="#ffffff" opacity="0.9" filter="url(#f105)"/>
<ellipse cx="520" cy="509" rx="6" ry="9" fill="#ffee30" filter="url(#f106)"/>
<path d="M249.0 112.0 L253.0 160.0 L259.0 230.0 L268.0 307.0 L276.0 390.0 L281.0 457.0 L284.0 504.0 L286.0 544.0 L288.0 583.0 L288.0 622.0 L285.0 662.0 L283.0 712.0 L425.0 712.0 L425.0 620.0 L427.0 540.0 L429.0 470.0 L432.0 420.0 L436.0 375.0 L440.0 350.0 L446.0 333.0 L452.0 355.0 L463.0 390.0 L480.0 440.0 L500.0 478.0 L512.0 500.0 L519.0 506.0 L524.0 500.0 L529.0 485.0 L530.0 465.0 L525.0 400.0 L516.0 347.0 L500.0 290.0 L488.0 228.0 L478.0 170.0 L470.0 112.0 Z" fill="#800000"/>
<path d="M268.0 117.0 L280.0 117.0 L276.0 145.0 Z" fill="#ff5a00" filter="url(#f107)"/>
<ellipse cx="278" cy="460" rx="4" ry="10" fill="#ffe040" filter="url(#f108)"/>
<path d="M318.7 112.0 L318.7 135.0 L318.6 158.0 L320.2 181.0 L319.2 204.0 L320.7 227.0 L321.0 250.0 L321.0 250.0 L321.2 272.7 L320.9 295.3 L322.8 318.0 L322.0 340.7 L323.8 363.3 L324.6 386.0 L324.6 386.0 L323.3 409.3 L323.7 432.6 L325.2 455.9 L326.9 479.1 L324.7 502.4 L325.3 525.7 L327.1 549.0 L328.5 572.3 L327.4 595.6 L327.1 618.9 L329.5 642.1 L326.4 665.4 L329.6 688.7 L328.6 712.0 L346.0 712.0 L345.4 691.8 L345.0 671.5 L345.0 651.2 L345.8 631.0 L347.8 610.8 L345.6 590.5 L347.2 570.2 L347.0 550.0 L347.0 550.0 L347.6 525.0 L347.0 500.0 L347.6 475.0 L346.4 450.0 L346.5 425.0 L347.1 400.0 L348.7 375.0 L348.1 350.0 L347.9 325.0 L348.9 300.0 L348.7 275.0 L349.0 250.0 L349.0 250.0 L348.7 227.0 L350.0 204.0 L350.0 181.0 L349.1 158.0 L350.0 135.0 L350.0 112.0 Z" fill="#132a82"/>
<path d="M988.0 112.0 L1040.0 112.0 L1042.0 300.0 L1044.0 420.0 L1040.0 520.0 L1022.0 520.0 L1006.0 420.0 L996.0 300.0 Z" fill="#0a1e70" opacity="0.8" filter="url(#f109)"/>
<path d="M1146.0 112.0 L1174.0 112.0 L1172.0 300.0 L1162.0 420.0 L1146.0 430.0 L1148.0 300.0 Z" fill="#0c2274" opacity="0.7" filter="url(#f110)"/>
<path d="M1059.6 112.0 L1060.5 228.0 L1062.4 347.0 L1064.5 430.0 L1066.3 504.0 L1067.5 545.0 L1068.3 583.0 L1070.3 622.0 L1070.0 660.0 L1069.0 712.0 L1110.0 712.0 L1109.7 701.0 L1107.5 680.0 L1105.8 662.0 L1101.0 645.0 L1097.9 630.0 L1095.0 615.0 L1094.0 603.0 L1094.5 590.0 L1095.9 575.0 L1100.0 558.0 L1103.8 544.0 L1108.5 525.0 L1111.7 504.0 L1116.0 480.0 L1117.6 465.0 L1117.6 347.0 L1115.6 228.0 L1111.7 112.0 Z" fill="none" stroke="#12c8f0" stroke-width="34" stroke-linejoin="round" stroke-linecap="round" opacity="0.85" filter="url(#f111)"/>
<path d="M1059.6 112.0 L1060.5 228.0 L1062.4 347.0 L1064.5 430.0 L1066.3 504.0 L1067.5 545.0 L1068.3 583.0 L1070.3 622.0 L1070.0 660.0 L1069.0 712.0 L1110.0 712.0 L1109.7 701.0 L1107.5 680.0 L1105.8 662.0 L1101.0 645.0 L1097.9 630.0 L1095.0 615.0 L1094.0 603.0 L1094.5 590.0 L1095.9 575.0 L1100.0 558.0 L1103.8 544.0 L1108.5 525.0 L1111.7 504.0 L1116.0 480.0 L1117.6 465.0 L1117.6 347.0 L1115.6 228.0 L1111.7 112.0 Z" fill="none" stroke="#08dcf8" stroke-width="18" stroke-linejoin="round" stroke-linecap="round" opacity="1.0" filter="url(#f112)"/>
<path d="M1059.6 112.0 L1060.5 228.0 L1062.4 347.0 L1064.5 430.0 L1066.3 504.0 L1067.5 545.0 L1068.3 583.0 L1070.3 622.0 L1070.0 660.0 L1069.0 712.0 L1110.0 712.0 L1109.7 701.0 L1107.5 680.0 L1105.8 662.0 L1101.0 645.0 L1097.9 630.0 L1095.0 615.0 L1094.0 603.0 L1094.5 590.0 L1095.9 575.0 L1100.0 558.0 L1103.8 544.0 L1108.5 525.0 L1111.7 504.0 L1116.0 480.0 L1117.6 465.0 L1117.6 347.0 L1115.6 228.0 L1111.7 112.0 Z" fill="none" stroke="#ffffff" stroke-width="9.0" stroke-linejoin="round" stroke-linecap="round" filter="url(#f113)"/>
<path d="M1059.6 112.0 L1060.5 228.0 L1062.4 347.0 L1064.5 430.0 L1066.3 504.0 L1067.5 545.0 L1068.3 583.0 L1070.3 622.0 L1070.0 660.0 L1069.0 712.0 L1110.0 712.0 L1109.7 701.0 L1107.5 680.0 L1105.8 662.0 L1101.0 645.0 L1097.9 630.0 L1095.0 615.0 L1094.0 603.0 L1094.5 590.0 L1095.9 575.0 L1100.0 558.0 L1103.8 544.0 L1108.5 525.0 L1111.7 504.0 L1116.0 480.0 L1117.6 465.0 L1117.6 347.0 L1115.6 228.0 L1111.7 112.0 Z" fill="none" stroke="#ffee20" stroke-width="6.4" stroke-linejoin="round" stroke-linecap="round" filter="url(#f114)"/>
<path d="M1059.6 112.0 L1060.5 228.0 L1062.4 347.0 L1064.5 430.0 L1066.3 504.0 L1067.5 545.0 L1068.3 583.0 L1070.3 622.0 L1070.0 660.0 L1069.0 712.0 L1110.0 712.0 L1109.7 701.0 L1107.5 680.0 L1105.8 662.0 L1101.0 645.0 L1097.9 630.0 L1095.0 615.0 L1094.0 603.0 L1094.5 590.0 L1095.9 575.0 L1100.0 558.0 L1103.8 544.0 L1108.5 525.0 L1111.7 504.0 L1116.0 480.0 L1117.6 465.0 L1117.6 347.0 L1115.6 228.0 L1111.7 112.0 Z" fill="none" stroke="#ff3000" stroke-width="3.6" stroke-linejoin="round" stroke-linecap="round" filter="url(#f115)"/>
<path d="M1059.6 112.0 L1060.5 228.0 L1062.4 347.0 L1064.5 430.0 L1066.3 504.0 L1067.5 545.0 L1068.3 583.0 L1070.3 622.0 L1070.0 660.0 L1069.0 712.0 L1110.0 712.0 L1109.7 701.0 L1107.5 680.0 L1105.8 662.0 L1101.0 645.0 L1097.9 630.0 L1095.0 615.0 L1094.0 603.0 L1094.5 590.0 L1095.9 575.0 L1100.0 558.0 L1103.8 544.0 L1108.5 525.0 L1111.7 504.0 L1116.0 480.0 L1117.6 465.0 L1117.6 347.0 L1115.6 228.0 L1111.7 112.0 Z" fill="#800000"/>
<path d="M1074.0 112.0 L1098.0 112.0 L1093.0 160.0 L1086.0 215.0 L1083.0 236.0 L1079.0 200.0 L1076.0 160.0 Z" fill="#132a82"/>
<path d="M1712.0 112.0 L1718.5 130.0 L1720.0 208.0 L1723.4 273.0 L1727.5 354.0 L1731.0 450.0 L1733.0 504.0 L1735.0 600.0 L1735.0 712.0" fill="none" stroke="#10c8f2" stroke-width="50" stroke-linejoin="round" stroke-linecap="round" opacity="0.5" filter="url(#f116)"/>
<path d="M1891.0 712.0 L1890.0 650.0 L1888.0 620.0 L1883.0 600.0 L1883.0 576.0 L1888.0 560.0 L1890.0 480.0 L1893.0 400.0 L1895.0 300.0 L1896.5 200.0 L1897.0 112.0" fill="none" stroke="#10c8f2" stroke-width="26" stroke-linejoin="round" stroke-linecap="round" opacity="0.45" filter="url(#f117)"/>
<path d="M1600.0 130.0 L1618.0 130.0 L1632.0 215.0 L1614.0 220.0 Z" fill="#0e2680" opacity="0.95" filter="url(#f118)"/>
<ellipse cx="1621" cy="300" rx="12" ry="22" fill="#0c2070" opacity="0.95" filter="url(#f119)"/>
<path d="M1617.0 112.0 L1712.0 112.0 L1716.0 300.0 L1700.0 318.0 L1672.0 300.0 L1650.0 275.0 L1638.0 225.0 L1624.0 170.0 Z" fill="#10dcf6" filter="url(#f120)"/>
<path d="M1621.0 112.0 L1706.0 112.0 L1702.0 150.0 L1699.0 210.0 L1696.0 250.0 L1690.0 270.0 L1678.0 268.0 L1664.0 252.0 L1650.0 228.0 L1639.0 198.0 L1627.0 150.0 Z" fill="#ffffff" filter="url(#f121)"/>
<path d="M1625.0 112.0 L1712.0 112.0 L1705.0 128.0 L1698.0 150.0 L1695.0 210.0 L1692.0 248.0 L1686.0 260.0 L1674.0 258.0 L1661.0 242.0 L1649.0 216.0 L1636.0 176.0 L1627.0 135.0 Z" fill="#ffee20" filter="url(#f122)"/>
<path d="M1627.0 112.0 L1694.0 112.0 L1692.0 150.0 L1690.0 200.0 L1687.0 232.0 L1680.0 248.0 L1670.0 245.0 L1657.0 226.0 L1644.0 190.0 L1631.0 140.0 Z" fill="#ff8000" filter="url(#f123)"/>
<path d="M1629.0 112.0 L1689.0 112.0 L1688.0 150.0 L1686.0 200.0 L1683.0 232.0 L1676.0 242.0 L1664.0 232.0 L1652.0 206.0 L1640.0 176.0 L1633.0 135.0 Z" fill="#ff1800" filter="url(#f124)"/>
<path d="M1632.0 112.0 L1681.0 112.0 L1683.0 150.0 L1681.0 195.0 L1677.0 222.0 L1670.0 228.0 L1660.0 212.0 L1648.0 180.0 L1636.0 135.0 Z" fill="#800000" filter="url(#f125)"/>
<path d="M1699.0 140.0 L1716.0 140.0 L1718.0 300.0 L1699.0 290.0 L1696.0 220.0 Z" fill="#12e6fa" filter="url(#f126)"/>
<ellipse cx="1702" cy="128" rx="6" ry="12" fill="#fffff0" filter="url(#f127)"/>
<path d="M1712 300 L1722 400 L1728 500 L1731 600 L1732 712" fill="none" stroke="#18c8f0" stroke-width="16" stroke-linejoin="round" stroke-linecap="round" opacity="0.7" filter="url(#f128)"/>
<path d="M1712.0 112.0 L1718.5 130.0 L1720.0 208.0 L1723.4 273.0 L1727.5 354.0 L1731.0 450.0 L1733.0 504.0 L1735.0 600.0 L1735.0 712.0 L1891.0 712.0 L1890.0 650.0 L1888.0 620.0 L1883.0 600.0 L1883.0 576.0 L1888.0 560.0 L1890.0 480.0 L1893.0 400.0 L1895.0 300.0 L1896.5 200.0 L1897.0 112.0 Z" fill="none" stroke="#08dcf8" stroke-width="24" stroke-linejoin="round" stroke-linecap="round" opacity="1.0" filter="url(#f129)"/>
<path d="M1712.0 112.0 L1718.5 130.0 L1720.0 208.0 L1723.4 273.0 L1727.5 354.0 L1731.0 450.0 L1733.0 504.0 L1735.0 600.0 L1735.0 712.0 L1891.0 712.0 L1890.0 650.0 L1888.0 620.0 L1883.0 600.0 L1883.0 576.0 L1888.0 560.0 L1890.0 480.0 L1893.0 400.0 L1895.0 300.0 L1896.5 200.0 L1897.0 112.0 Z" fill="none" stroke="#ffffff" stroke-width="13.0" stroke-linejoin="round" stroke-linecap="round" filter="url(#f130)"/>
<path d="M1712.0 112.0 L1718.5 130.0 L1720.0 208.0 L1723.4 273.0 L1727.5 354.0 L1731.0 450.0 L1733.0 504.0 L1735.0 600.0 L1735.0 712.0 L1891.0 712.0 L1890.0 650.0 L1888.0 620.0 L1883.0 600.0 L1883.0 576.0 L1888.0 560.0 L1890.0 480.0 L1893.0 400.0 L1895.0 300.0 L1896.5 200.0 L1897.0 112.0 Z" fill="none" stroke="#ffee20" stroke-width="9.6" stroke-linejoin="round" stroke-linecap="round" filter="url(#f131)"/>
<path d="M1712.0 112.0 L1718.5 130.0 L1720.0 208.0 L1723.4 273.0 L1727.5 354.0 L1731.0 450.0 L1733.0 504.0 L1735.0 600.0 L1735.0 712.0 L1891.0 712.0 L1890.0 650.0 L1888.0 620.0 L1883.0 600.0 L1883.0 576.0 L1888.0 560.0 L1890.0 480.0 L1893.0 400.0 L1895.0 300.0 L1896.5 200.0 L1897.0 112.0 Z" fill="none" stroke="#ff3000" stroke-width="5.0" stroke-linejoin="round" stroke-linecap="round" filter="url(#f132)"/>
<path d="M1712.0 112.0 L1718.5 130.0 L1720.0 208.0 L1723.4 273.0 L1727.5 354.0 L1731.0 450.0 L1733.0 504.0 L1735.0 600.0 L1735.0 712.0 L1891.0 712.0 L1890.0 650.0 L1888.0 620.0 L1883.0 600.0 L1883.0 576.0 L1888.0 560.0 L1890.0 480.0 L1893.0 400.0 L1895.0 300.0 L1896.5 200.0 L1897.0 112.0 Z" fill="#800000"/>
<ellipse cx="1898" cy="235" rx="5" ry="25" fill="#ffe040" filter="url(#f133)"/>
<path d="M1745.0 112.0 L1745.0 131.0 L1745.0 150.0 L1744.5 160.0 L1745.1 187.6 L1744.8 215.2 L1744.0 242.8 L1745.1 270.4 L1743.6 298.0 L1744.1 325.6 L1744.6 353.2 L1743.5 380.8 L1744.0 408.4 L1743.3 436.0 L1744.2 463.6 L1744.3 491.2 L1744.0 518.8 L1744.4 546.4 L1743.5 574.0 L1744.0 601.6 L1743.8 629.2 L1743.7 656.8 L1743.5 684.4 L1743.5 712.0 L1766.0 712.0 L1766.6 684.4 L1766.7 656.8 L1765.8 629.2 L1766.1 601.6 L1765.0 574.0 L1766.1 546.4 L1765.9 518.8 L1766.5 491.2 L1766.1 463.6 L1765.1 436.0 L1765.2 408.4 L1765.7 380.8 L1764.5 353.2 L1765.2 325.6 L1764.7 298.0 L1764.5 270.4 L1764.4 242.8 L1765.6 215.2 L1764.4 187.6 L1765.0 160.0 L1758.5 150.0 L1758.5 112.0 Z" fill="#132a82"/>
<path d="M1824 112 L1822 200 L1818 300 L1816 380 L1816 439 L1802.0 439.0 Q1794.0 442.0 1802.0 445.0 L1811.0 445.0 Q1816.0 460.5 1811.0 476.0 L1800.0 476.0 Q1792.0 479.5 1800.0 483.0 L1808.7 483.0 Q1813.7 496.0 1808.7 509.0 L1796.0 509.0 Q1788.0 512.0 1796.0 515.0 L1804.0 515.0 Q1809.0 524.0 1804.0 533.0 L1796.0 533.0 Q1788.0 536.2 1796.0 539.4 L1808.7 539.4 Q1813.7 552.5 1808.7 565.6 L1796.0 565.6 Q1788.0 571.0 1796.0 576.5 L1800.0 576.5 Q1805.0 587.2 1800.0 598.0 L1799.0 598.0 Q1791.0 603.5 1799.0 609.0 L1806.5 609.0 Q1811.5 614.5 1806.5 620.0 L1799.0 620.0 Q1791.0 625.5 1799.0 631.0 L1800.0 631.0 Q1805.0 647.5 1800.0 664.0 L1799.0 664.0 Q1791.0 674.9 1799.0 685.7 L1808.7 685.7 Q1813.7 698.9 1808.7 712.0 L1851 712 L1851.5 600 L1852 500 L1853 400 L1854 300 L1855 200 L1855 112 Z" fill="#132a82"/>
<text x="119" y="670" font-family="'Liberation Sans', Arial, sans-serif" font-size="60" font-weight="bold" fill="#ffffff">a</text>
<text x="568" y="692.5" font-family="'Liberation Sans', Arial, sans-serif" font-size="57" fill="#ffffff" textLength="62" lengthAdjust="spacingAndGlyphs">SC</text>
<text x="1580" y="689.5" font-family="'Liberation Sans', Arial, sans-serif" font-size="57" fill="#ffffff" textLength="62" lengthAdjust="spacingAndGlyphs">SC</text>
<line x1="650" y1="661" x2="726" y2="630" stroke="#ffffff" stroke-width="2.6"/>
<path d="M743 623.5 L719.5 621.5 L728 638 Z" fill="#ffffff"/>
<line x1="1561.3" y1="663" x2="1458" y2="628" stroke="#ffffff" stroke-width="2.6"/>
<path d="M1441.7 622.3 L1464.6 618.3 L1457.8 638.3 Z" fill="#ffffff"/>
</g>
<rect x="99.3" y="117.3" width="1969.4" height="590.9" fill="none" stroke="#262626" stroke-width="3.7"/>
<path d="M147.0 117.3v10M147.0 708.2v-10M381.3 117.3v10M381.3 708.2v-10M615.6 117.3v10M615.6 708.2v-10M849.9 117.3v10M849.9 708.2v-10M1084.2 117.3v10M1084.2 708.2v-10M1318.5 117.3v10M1318.5 708.2v-10M1552.8 117.3v10M1552.8 708.2v-10M1787.1 117.3v10M1787.1 708.2v-10M2021.4 117.3v10M2021.4 708.2v-10M99.3 708.2h10M2068.7 708.2h-10M99.3 609.7h10M2068.7 609.7h-10M99.3 511.2h10M2068.7 511.2h-10M99.3 412.8h10M2068.7 412.8h-10M99.3 314.3h10M2068.7 314.3h-10M99.3 215.8h10M2068.7 215.8h-10M99.3 117.3h10M2068.7 117.3h-10" stroke="#262626" stroke-width="3.2" fill="none"/>
<text x="82.5" y="137.0" font-family="'Liberation Sans', Arial, sans-serif" font-size="58" text-anchor="end" fill="#262626" >5</text>
<text x="82.5" y="727.9000000000001" font-family="'Liberation Sans', Arial, sans-serif" font-size="58" text-anchor="end" fill="#262626" >-1</text>
<text transform="translate(37.8,414) rotate(-90)" font-family="'Liberation Sans', Arial, sans-serif" font-size="51" text-anchor="middle" fill="#262626"><tspan font-style="italic">B</tspan> (T)</text>
<rect x="1675" y="64" width="1393" height="0"/>
<rect x="1674.8" y="63.9" width="394" height="43.8" fill="url(#cbar)" stroke="#262626" stroke-width="3.6"/>
<path d="M1871.5 65.7v7" stroke="#262626" stroke-width="3"/>
<text x="1674.7" y="39.5" font-family="'Liberation Sans', Arial, sans-serif" font-size="50" text-anchor="middle" fill="#262626" >0</text>
<text x="2068" y="39.5" font-family="'Liberation Sans', Arial, sans-serif" font-size="50" text-anchor="middle" fill="#262626" >15</text>
<text x="1502.5" y="87" font-family="'Liberation Sans', Arial, sans-serif" font-size="44" font-style="italic" fill="#111">R</text>
<text x="1533" y="104" font-family="'Liberation Sans', Arial, sans-serif" font-size="26.5" font-style="italic" fill="#111">xx</text>
<text x="1571" y="87" font-family="'Liberation Sans', Arial, sans-serif" font-size="44" fill="#111">(kΩ)</text>
<g clip-path="url(#clipB)">
<line x1="95" y1="1271.2" x2="2070" y2="1271.2" stroke="#000" stroke-width="3.6" stroke-dasharray="13.7 10.9"/>
<rect x="273.4" y="782.8" width="159.5" height="589.2" fill="rgb(237, 175, 140)" fill-opacity="0.514"/>
<rect x="1736" y="782.8" width="159.0" height="589.2" fill="rgb(237, 175, 140)" fill-opacity="0.514"/>
<rect x="546.5" y="782.8" width="15.8" height="589.2" fill="rgb(170, 200, 140)" fill-opacity="0.5"/>
<rect x="734" y="782.8" width="16.0" height="589.2" fill="rgb(150, 185, 228)" fill-opacity="0.5"/>
<rect x="1063.5" y="782.8" width="40.5" height="589.2" fill="rgb(251, 205, 100)" fill-opacity="0.55"/>
<line x1="350.5" y1="1269.5" x2="210.3" y2="779.0" stroke="#000" stroke-width="2.0" stroke-linecap="butt"/>
<line x1="350.5" y1="1269.5" x2="96.0" y2="785.5" stroke="#000" stroke-width="1.8" stroke-dasharray="6 4" stroke-linecap="butt"/>
<line x1="350.5" y1="1269.5" x2="96.0" y2="945.8" stroke="#000" stroke-width="2.0" stroke-linecap="butt"/>
<line x1="1814.6" y1="1270.0" x2="1937.8" y2="779.0" stroke="#000" stroke-width="2.0" stroke-linecap="butt"/>
<line x1="1814.6" y1="1270.0" x2="1983.0" y2="779.0" stroke="#000" stroke-width="1.8" stroke-dasharray="6 4" stroke-linecap="butt"/>
<line x1="1814.6" y1="1270.0" x2="2038.4" y2="779.0" stroke="#000" stroke-width="1.8" stroke-dasharray="6 4" stroke-linecap="butt"/>
<line x1="1814.6" y1="1270.0" x2="2069.0" y2="813.4" stroke="#000" stroke-width="1.8" stroke-dasharray="6 4" stroke-linecap="butt"/>
<line x1="1814.6" y1="1270.0" x2="2069.0" y2="887.0" stroke="#000" stroke-width="2.0" stroke-linecap="butt"/>
<line x1="1814.6" y1="1270.0" x2="2069.0" y2="1016.5" stroke="#000" stroke-width="1.8" stroke-dasharray="6 4" stroke-linecap="butt"/>
<line x1="1082.2" y1="1266.8" x2="753.5" y2="779.0" stroke="#d9262c" stroke-width="2.2" stroke-linecap="butt"/>
<line x1="1082.2" y1="1266.8" x2="819.7" y2="779.0" stroke="#d9262c" stroke-width="2.0" stroke-dasharray="7 5" stroke-linecap="butt"/>
<line x1="1082.2" y1="1266.8" x2="878.2" y2="779.0" stroke="#d9262c" stroke-width="2.0" stroke-dasharray="7 5" stroke-linecap="butt"/>
<line x1="1082.2" y1="1266.8" x2="927.4" y2="779.0" stroke="#d9262c" stroke-width="2.0" stroke-dasharray="7 5" stroke-linecap="butt"/>
<line x1="1082.2" y1="1266.8" x2="977.0" y2="779.0" stroke="#d9262c" stroke-width="2.2" stroke-linecap="butt"/>
<line x1="1082.2" y1="1266.8" x2="1029.7" y2="779.0" stroke="#d9262c" stroke-width="2.0" stroke-dasharray="7 5" stroke-linecap="butt"/>
<line x1="1082.2" y1="1266.8" x2="1132.3" y2="779.0" stroke="#d9262c" stroke-width="2.0" stroke-dasharray="7 5" stroke-linecap="butt"/>
<line x1="1082.2" y1="1266.8" x2="1186.4" y2="779.0" stroke="#d9262c" stroke-width="2.2" stroke-linecap="butt"/>
<line x1="1082.2" y1="1266.8" x2="1236.6" y2="779.0" stroke="#d9262c" stroke-width="2.0" stroke-dasharray="7 5" stroke-linecap="butt"/>
<line x1="1082.2" y1="1266.8" x2="1277.2" y2="779.0" stroke="#d9262c" stroke-width="2.0" stroke-dasharray="7 5" stroke-linecap="butt"/>
<line x1="1082.2" y1="1266.8" x2="1326.5" y2="779.0" stroke="#d9262c" stroke-width="2.0" stroke-dasharray="7 5" stroke-linecap="butt"/>
<line x1="1082.2" y1="1266.8" x2="1379.8" y2="779.0" stroke="#d9262c" stroke-width="2.2" stroke-linecap="butt"/>
<line x1="1082.2" y1="1266.8" x2="762.0" y2="916.6" stroke="#d9262c" stroke-width="2.0" stroke-dasharray="7 5" stroke-linecap="butt"/>
<line x1="1082.2" y1="1266.8" x2="771.4" y2="984.6" stroke="#d9262c" stroke-width="2.2" stroke-linecap="butt"/>
<line x1="1082.2" y1="1266.8" x2="1397.7" y2="905.0" stroke="#d9262c" stroke-width="2.0" stroke-dasharray="7 5" stroke-linecap="butt"/>
<line x1="1082.2" y1="1266.8" x2="1395.0" y2="984.6" stroke="#d9262c" stroke-width="2.2" stroke-linecap="butt"/>
<path d="M489.7 779 L531.3 779 L534.2 969 Q531 975 527.6 970 Z" fill="#a0252a"/>
<path d="M635 779 L704 779 L734.3 1244 Q730 1250 725 1245 Z" fill="#a0252a"/>
<line x1="531.0" y1="975.0" x2="553.6" y2="1269.5" stroke="#e07b39" stroke-width="1.8" stroke-dasharray="6 4" stroke-linecap="butt"/>
<line x1="730.5" y1="1250.0" x2="733.0" y2="1270.0" stroke="#e07b39" stroke-width="1.8" stroke-dasharray="6 4" stroke-linecap="butt"/>
<line x1="1592.6" y1="788.0" x2="1734.4" y2="1069.7" stroke="#fbe6d6" stroke-width="5.5" stroke-linecap="round"/>
<line x1="1592.6" y1="788.0" x2="1734.4" y2="1069.7" stroke="#c49678" stroke-width="3.6" stroke-dasharray="0.1 6.25" stroke-linecap="round"/>
<line x1="1558.6" y1="880.7" x2="1734.4" y2="1118.9" stroke="#fbe6d6" stroke-width="5.5" stroke-linecap="round"/>
<line x1="1558.6" y1="880.7" x2="1734.4" y2="1118.9" stroke="#c49678" stroke-width="3.6" stroke-dasharray="0.1 6.25" stroke-linecap="round"/>
<line x1="1543.5" y1="956.3" x2="1732.5" y2="1160.5" stroke="#fbe6d6" stroke-width="5.5" stroke-linecap="round"/>
<line x1="1543.5" y1="956.3" x2="1732.5" y2="1160.5" stroke="#c49678" stroke-width="3.6" stroke-dasharray="0.1 6.25" stroke-linecap="round"/>
<line x1="1545.4" y1="1018.7" x2="1734.4" y2="1194.5" stroke="#fbe6d6" stroke-width="5.5" stroke-linecap="round"/>
<line x1="1545.4" y1="1018.7" x2="1734.4" y2="1194.5" stroke="#c49678" stroke-width="3.6" stroke-dasharray="0.1 6.25" stroke-linecap="round"/>
<text transform="translate(371.4,1168.4) rotate(-90)" font-family="'Liberation Sans', Arial, sans-serif" font-size="48" textLength="295" lengthAdjust="spacingAndGlyphs" fill="#000">Band insulator</text>
<text transform="translate(1833,1169.4) rotate(-90)" font-family="'Liberation Sans', Arial, sans-serif" font-size="48" textLength="295" lengthAdjust="spacingAndGlyphs" fill="#000">Band insulator</text>
<text x="119.5" y="1340" font-family="'Liberation Sans', Arial, sans-serif" font-size="60" font-weight="bold" fill="#000">b</text>
</g>
<rect x="98.0" y="779.8" width="1969.0" height="590.7" fill="none" stroke="#262626" stroke-width="3.7"/>
<path d="M144.7 779.8v10M144.7 1370.5v-10M379.0 779.8v10M379.0 1370.5v-10M613.3 779.8v10M613.3 1370.5v-10M847.6 779.8v10M847.6 1370.5v-10M1081.9 779.8v10M1081.9 1370.5v-10M1316.2 779.8v10M1316.2 1370.5v-10M1550.5 779.8v10M1550.5 1370.5v-10M1784.8 779.8v10M1784.8 1370.5v-10M2019.1 779.8v10M2019.1 1370.5v-10M98.0 1370.5h10M2067.0 1370.5h-10M98.0 1272.0h10M2067.0 1272.0h-10M98.0 1173.6h10M2067.0 1173.6h-10M98.0 1075.2h10M2067.0 1075.2h-10M98.0 976.7h10M2067.0 976.7h-10M98.0 878.2h10M2067.0 878.2h-10M98.0 779.8h10M2067.0 779.8h-10" stroke="#262626" stroke-width="3.2" fill="none"/>
<text x="461" y="761.7" font-family="'Liberation Sans', Arial, sans-serif" font-size="37" fill="#e07b39" textLength="95" lengthAdjust="spacingAndGlyphs"><tspan font-family="'Liberation Serif', serif" font-style="italic" font-size="44">ν</tspan> = -1</text>
<text x="614.5" y="761.7" font-family="'Liberation Sans', Arial, sans-serif" font-size="37" fill="#e07b39" textLength="96" lengthAdjust="spacingAndGlyphs"><tspan font-family="'Liberation Serif', serif" font-style="italic" font-size="44">ν</tspan> = -2</text>
<text x="82.5" y="799.5" font-family="'Liberation Sans', Arial, sans-serif" font-size="58" text-anchor="end" fill="#262626" >5</text>
<text x="82.5" y="1390.2" font-family="'Liberation Sans', Arial, sans-serif" font-size="58" text-anchor="end" fill="#262626" >-1</text>
<text transform="translate(39,1057) rotate(-90)" font-family="'Liberation Sans', Arial, sans-serif" font-size="51" text-anchor="middle" fill="#262626"><tspan font-style="italic">B</tspan> (T)</text>
<text x="144.7" y="1436.5" font-family="'Liberation Sans', Arial, sans-serif" font-size="58" text-anchor="middle" fill="#262626" >-4</text>
<text x="1081.9" y="1436.5" font-family="'Liberation Sans', Arial, sans-serif" font-size="58" text-anchor="middle" fill="#262626" >0</text>
<text x="2019.1000000000001" y="1436.5" font-family="'Liberation Sans', Arial, sans-serif" font-size="58" text-anchor="middle" fill="#262626" >4</text>
<text x="1093" y="1521" font-family="'Liberation Sans', Arial, sans-serif" font-size="53" text-anchor="middle" fill="#262626"><tspan font-style="italic">n</tspan> (10<tspan font-size="33" dy="-30">12</tspan><tspan dy="30"> cm</tspan><tspan font-size="33" dy="-30">-2</tspan><tspan dy="30">)</tspan></text>
</svg>
</body></html>
